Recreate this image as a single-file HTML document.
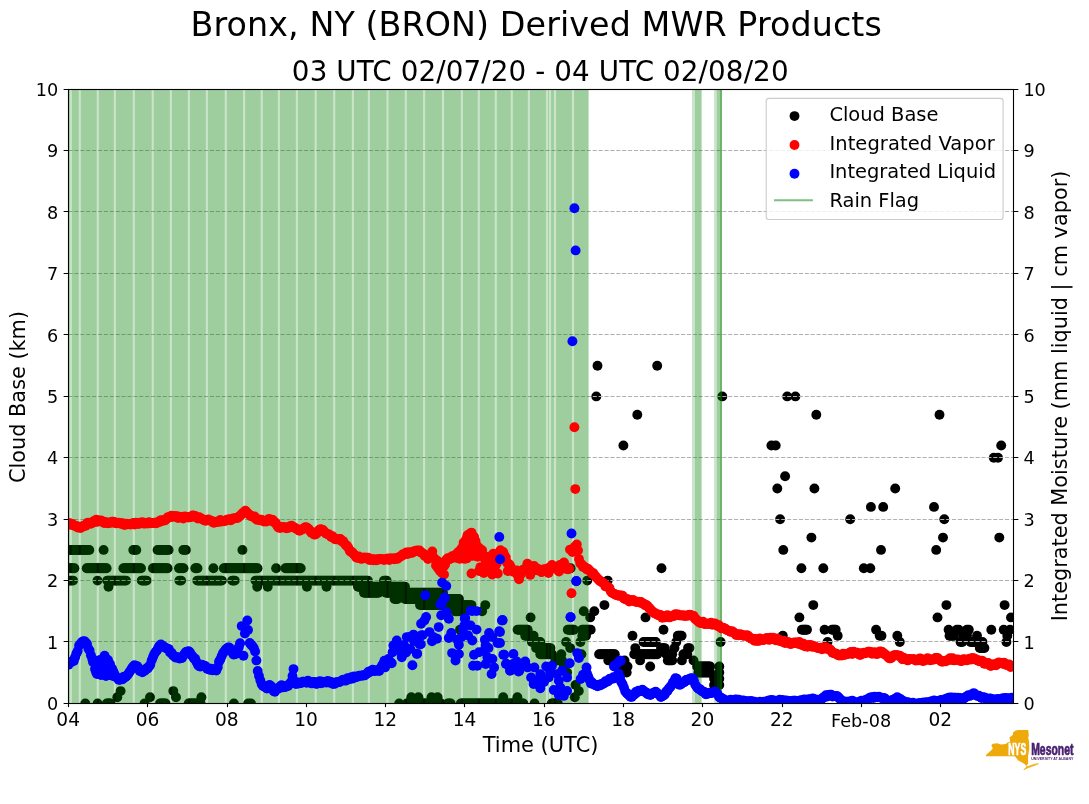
<!DOCTYPE html>
<html lang="en"><head><meta charset="utf-8"><title>Bronx, NY (BRON) Derived MWR Products</title>
<style>html,body{margin:0;padding:0;background:#fff}body{width:1089px;height:804px;overflow:hidden}svg{display:block}text{font-family:"DejaVu Sans","Liberation Sans",sans-serif;fill:#000}</style></head><body>
<svg width="1089" height="804" viewBox="0 0 1089 804">
<rect width="1089" height="804" fill="#fff"/>
<defs><clipPath id="ax"><rect x="68.50" y="89.50" width="945.00" height="614.00"/></clipPath></defs>
<text x="536.2" y="35.6" font-size="33.33" text-anchor="middle" textLength="691.2" lengthAdjust="spacing">Bronx, NY (BRON) Derived MWR Products</text>
<text x="540.2" y="81.3" font-size="27.78" text-anchor="middle" textLength="496.7" lengthAdjust="spacing">03 UTC 02/07/20 - 04 UTC 02/08/20</text>
<g clip-path="url(#ax)">
<g fill="#000">
<circle cx="68.5" cy="549.9" r="4.95"/>
<circle cx="69.8" cy="549.9" r="4.95"/>
<circle cx="71.1" cy="549.9" r="4.95"/>
<circle cx="72.4" cy="549.9" r="4.95"/>
<circle cx="73.7" cy="549.9" r="4.95"/>
<circle cx="75.0" cy="549.9" r="4.95"/>
<circle cx="76.3" cy="549.9" r="4.95"/>
<circle cx="77.6" cy="549.9" r="4.95"/>
<circle cx="78.9" cy="549.9" r="4.95"/>
<circle cx="80.2" cy="549.9" r="4.95"/>
<circle cx="81.5" cy="549.9" r="4.95"/>
<circle cx="82.8" cy="549.9" r="4.95"/>
<circle cx="84.1" cy="549.9" r="4.95"/>
<circle cx="85.4" cy="549.9" r="4.95"/>
<circle cx="86.7" cy="549.9" r="4.95"/>
<circle cx="88.0" cy="549.9" r="4.95"/>
<circle cx="89.3" cy="549.9" r="4.95"/>
<circle cx="103.6" cy="549.9" r="4.95"/>
<circle cx="242.4" cy="549.9" r="4.95"/>
<circle cx="133.3" cy="549.9" r="4.95"/>
<circle cx="134.8" cy="549.9" r="4.95"/>
<circle cx="136.3" cy="549.9" r="4.95"/>
<circle cx="157.6" cy="549.9" r="4.95"/>
<circle cx="159.0" cy="549.9" r="4.95"/>
<circle cx="160.3" cy="549.9" r="4.95"/>
<circle cx="161.7" cy="549.9" r="4.95"/>
<circle cx="163.1" cy="549.9" r="4.95"/>
<circle cx="164.5" cy="549.9" r="4.95"/>
<circle cx="165.8" cy="549.9" r="4.95"/>
<circle cx="167.2" cy="549.9" r="4.95"/>
<circle cx="168.6" cy="549.9" r="4.95"/>
<circle cx="183.3" cy="549.9" r="4.95"/>
<circle cx="184.6" cy="549.9" r="4.95"/>
<circle cx="185.9" cy="549.9" r="4.95"/>
<circle cx="68.5" cy="568.3" r="4.95"/>
<circle cx="70.0" cy="568.3" r="4.95"/>
<circle cx="71.5" cy="568.3" r="4.95"/>
<circle cx="72.9" cy="568.3" r="4.95"/>
<circle cx="74.4" cy="568.3" r="4.95"/>
<circle cx="86.7" cy="568.3" r="4.95"/>
<circle cx="88.0" cy="568.3" r="4.95"/>
<circle cx="89.4" cy="568.3" r="4.95"/>
<circle cx="90.7" cy="568.3" r="4.95"/>
<circle cx="92.0" cy="568.3" r="4.95"/>
<circle cx="93.3" cy="568.3" r="4.95"/>
<circle cx="94.7" cy="568.3" r="4.95"/>
<circle cx="96.0" cy="568.3" r="4.95"/>
<circle cx="97.3" cy="568.3" r="4.95"/>
<circle cx="98.6" cy="568.3" r="4.95"/>
<circle cx="100.0" cy="568.3" r="4.95"/>
<circle cx="101.3" cy="568.3" r="4.95"/>
<circle cx="102.6" cy="568.3" r="4.95"/>
<circle cx="103.9" cy="568.3" r="4.95"/>
<circle cx="105.3" cy="568.3" r="4.95"/>
<circle cx="106.6" cy="568.3" r="4.95"/>
<circle cx="123.4" cy="568.3" r="4.95"/>
<circle cx="124.8" cy="568.3" r="4.95"/>
<circle cx="126.1" cy="568.3" r="4.95"/>
<circle cx="127.5" cy="568.3" r="4.95"/>
<circle cx="128.8" cy="568.3" r="4.95"/>
<circle cx="130.2" cy="568.3" r="4.95"/>
<circle cx="131.5" cy="568.3" r="4.95"/>
<circle cx="132.9" cy="568.3" r="4.95"/>
<circle cx="134.2" cy="568.3" r="4.95"/>
<circle cx="135.6" cy="568.3" r="4.95"/>
<circle cx="136.9" cy="568.3" r="4.95"/>
<circle cx="138.3" cy="568.3" r="4.95"/>
<circle cx="139.6" cy="568.3" r="4.95"/>
<circle cx="141.0" cy="568.3" r="4.95"/>
<circle cx="152.9" cy="568.3" r="4.95"/>
<circle cx="154.2" cy="568.3" r="4.95"/>
<circle cx="155.6" cy="568.3" r="4.95"/>
<circle cx="156.9" cy="568.3" r="4.95"/>
<circle cx="158.2" cy="568.3" r="4.95"/>
<circle cx="159.6" cy="568.3" r="4.95"/>
<circle cx="160.9" cy="568.3" r="4.95"/>
<circle cx="162.3" cy="568.3" r="4.95"/>
<circle cx="163.6" cy="568.3" r="4.95"/>
<circle cx="164.9" cy="568.3" r="4.95"/>
<circle cx="166.3" cy="568.3" r="4.95"/>
<circle cx="167.6" cy="568.3" r="4.95"/>
<circle cx="179.0" cy="568.3" r="4.95"/>
<circle cx="180.5" cy="568.3" r="4.95"/>
<circle cx="182.0" cy="568.3" r="4.95"/>
<circle cx="183.5" cy="568.3" r="4.95"/>
<circle cx="195.3" cy="568.3" r="4.95"/>
<circle cx="196.4" cy="568.3" r="4.95"/>
<circle cx="197.5" cy="568.3" r="4.95"/>
<circle cx="213.4" cy="568.3" r="4.95"/>
<circle cx="276.1" cy="568.3" r="4.95"/>
<circle cx="223.8" cy="568.3" r="4.95"/>
<circle cx="225.1" cy="568.3" r="4.95"/>
<circle cx="226.4" cy="568.3" r="4.95"/>
<circle cx="227.7" cy="568.3" r="4.95"/>
<circle cx="229.0" cy="568.3" r="4.95"/>
<circle cx="230.3" cy="568.3" r="4.95"/>
<circle cx="231.6" cy="568.3" r="4.95"/>
<circle cx="232.9" cy="568.3" r="4.95"/>
<circle cx="234.2" cy="568.3" r="4.95"/>
<circle cx="235.5" cy="568.3" r="4.95"/>
<circle cx="236.8" cy="568.3" r="4.95"/>
<circle cx="238.1" cy="568.3" r="4.95"/>
<circle cx="239.4" cy="568.3" r="4.95"/>
<circle cx="240.7" cy="568.3" r="4.95"/>
<circle cx="241.9" cy="568.3" r="4.95"/>
<circle cx="243.2" cy="568.3" r="4.95"/>
<circle cx="244.5" cy="568.3" r="4.95"/>
<circle cx="245.8" cy="568.3" r="4.95"/>
<circle cx="247.1" cy="568.3" r="4.95"/>
<circle cx="248.4" cy="568.3" r="4.95"/>
<circle cx="249.7" cy="568.3" r="4.95"/>
<circle cx="251.0" cy="568.3" r="4.95"/>
<circle cx="252.3" cy="568.3" r="4.95"/>
<circle cx="253.6" cy="568.3" r="4.95"/>
<circle cx="254.9" cy="568.3" r="4.95"/>
<circle cx="256.2" cy="568.3" r="4.95"/>
<circle cx="257.5" cy="568.3" r="4.95"/>
<circle cx="285.4" cy="568.3" r="4.95"/>
<circle cx="286.7" cy="568.3" r="4.95"/>
<circle cx="287.9" cy="568.3" r="4.95"/>
<circle cx="289.2" cy="568.3" r="4.95"/>
<circle cx="290.5" cy="568.3" r="4.95"/>
<circle cx="291.8" cy="568.3" r="4.95"/>
<circle cx="293.0" cy="568.3" r="4.95"/>
<circle cx="294.3" cy="568.3" r="4.95"/>
<circle cx="295.6" cy="568.3" r="4.95"/>
<circle cx="296.9" cy="568.3" r="4.95"/>
<circle cx="298.1" cy="568.3" r="4.95"/>
<circle cx="299.4" cy="568.3" r="4.95"/>
<circle cx="300.7" cy="568.3" r="4.95"/>
<circle cx="68.5" cy="580.6" r="4.95"/>
<circle cx="70.0" cy="580.6" r="4.95"/>
<circle cx="71.6" cy="580.6" r="4.95"/>
<circle cx="73.1" cy="580.6" r="4.95"/>
<circle cx="97.5" cy="580.6" r="4.95"/>
<circle cx="107.2" cy="580.6" r="4.95"/>
<circle cx="108.5" cy="580.6" r="4.95"/>
<circle cx="109.9" cy="580.6" r="4.95"/>
<circle cx="111.2" cy="580.6" r="4.95"/>
<circle cx="112.6" cy="580.6" r="4.95"/>
<circle cx="113.9" cy="580.6" r="4.95"/>
<circle cx="115.3" cy="580.6" r="4.95"/>
<circle cx="116.6" cy="580.6" r="4.95"/>
<circle cx="117.9" cy="580.6" r="4.95"/>
<circle cx="119.3" cy="580.6" r="4.95"/>
<circle cx="120.6" cy="580.6" r="4.95"/>
<circle cx="122.0" cy="580.6" r="4.95"/>
<circle cx="123.3" cy="580.6" r="4.95"/>
<circle cx="124.7" cy="580.6" r="4.95"/>
<circle cx="126.0" cy="580.6" r="4.95"/>
<circle cx="141.7" cy="580.6" r="4.95"/>
<circle cx="142.9" cy="580.6" r="4.95"/>
<circle cx="144.1" cy="580.6" r="4.95"/>
<circle cx="145.4" cy="580.6" r="4.95"/>
<circle cx="146.6" cy="580.6" r="4.95"/>
<circle cx="179.4" cy="580.6" r="4.95"/>
<circle cx="181.1" cy="580.6" r="4.95"/>
<circle cx="197.3" cy="580.6" r="4.95"/>
<circle cx="198.6" cy="580.6" r="4.95"/>
<circle cx="199.9" cy="580.6" r="4.95"/>
<circle cx="201.2" cy="580.6" r="4.95"/>
<circle cx="202.5" cy="580.6" r="4.95"/>
<circle cx="203.7" cy="580.6" r="4.95"/>
<circle cx="205.0" cy="580.6" r="4.95"/>
<circle cx="206.3" cy="580.6" r="4.95"/>
<circle cx="207.6" cy="580.6" r="4.95"/>
<circle cx="208.9" cy="580.6" r="4.95"/>
<circle cx="210.2" cy="580.6" r="4.95"/>
<circle cx="211.5" cy="580.6" r="4.95"/>
<circle cx="212.8" cy="580.6" r="4.95"/>
<circle cx="214.1" cy="580.6" r="4.95"/>
<circle cx="215.4" cy="580.6" r="4.95"/>
<circle cx="216.6" cy="580.6" r="4.95"/>
<circle cx="217.9" cy="580.6" r="4.95"/>
<circle cx="219.2" cy="580.6" r="4.95"/>
<circle cx="220.5" cy="580.6" r="4.95"/>
<circle cx="221.8" cy="580.6" r="4.95"/>
<circle cx="232.2" cy="580.6" r="4.95"/>
<circle cx="233.5" cy="580.6" r="4.95"/>
<circle cx="234.8" cy="580.6" r="4.95"/>
<circle cx="255.5" cy="580.6" r="4.95"/>
<circle cx="256.8" cy="580.6" r="4.95"/>
<circle cx="258.1" cy="580.6" r="4.95"/>
<circle cx="259.5" cy="580.6" r="4.95"/>
<circle cx="260.8" cy="580.6" r="4.95"/>
<circle cx="262.1" cy="580.6" r="4.95"/>
<circle cx="263.4" cy="580.6" r="4.95"/>
<circle cx="264.8" cy="580.6" r="4.95"/>
<circle cx="266.1" cy="580.6" r="4.95"/>
<circle cx="267.4" cy="580.6" r="4.95"/>
<circle cx="268.7" cy="580.6" r="4.95"/>
<circle cx="270.0" cy="580.6" r="4.95"/>
<circle cx="271.4" cy="580.6" r="4.95"/>
<circle cx="272.7" cy="580.6" r="4.95"/>
<circle cx="274.0" cy="580.6" r="4.95"/>
<circle cx="275.3" cy="580.6" r="4.95"/>
<circle cx="276.7" cy="580.6" r="4.95"/>
<circle cx="278.0" cy="580.6" r="4.95"/>
<circle cx="279.3" cy="580.6" r="4.95"/>
<circle cx="280.6" cy="580.6" r="4.95"/>
<circle cx="281.9" cy="580.6" r="4.95"/>
<circle cx="283.3" cy="580.6" r="4.95"/>
<circle cx="284.6" cy="580.6" r="4.95"/>
<circle cx="285.9" cy="580.6" r="4.95"/>
<circle cx="287.2" cy="580.6" r="4.95"/>
<circle cx="288.6" cy="580.6" r="4.95"/>
<circle cx="289.9" cy="580.6" r="4.95"/>
<circle cx="291.2" cy="580.6" r="4.95"/>
<circle cx="292.5" cy="580.6" r="4.95"/>
<circle cx="293.8" cy="580.6" r="4.95"/>
<circle cx="295.2" cy="580.6" r="4.95"/>
<circle cx="296.5" cy="580.6" r="4.95"/>
<circle cx="297.8" cy="580.6" r="4.95"/>
<circle cx="299.1" cy="580.6" r="4.95"/>
<circle cx="300.5" cy="580.6" r="4.95"/>
<circle cx="301.8" cy="580.6" r="4.95"/>
<circle cx="303.1" cy="580.6" r="4.95"/>
<circle cx="304.4" cy="580.6" r="4.95"/>
<circle cx="305.7" cy="580.6" r="4.95"/>
<circle cx="307.1" cy="580.6" r="4.95"/>
<circle cx="308.4" cy="580.6" r="4.95"/>
<circle cx="309.7" cy="580.6" r="4.95"/>
<circle cx="311.0" cy="580.6" r="4.95"/>
<circle cx="312.4" cy="580.6" r="4.95"/>
<circle cx="313.7" cy="580.6" r="4.95"/>
<circle cx="315.0" cy="580.6" r="4.95"/>
<circle cx="316.3" cy="580.6" r="4.95"/>
<circle cx="317.7" cy="580.6" r="4.95"/>
<circle cx="319.0" cy="580.6" r="4.95"/>
<circle cx="320.3" cy="580.6" r="4.95"/>
<circle cx="321.6" cy="580.6" r="4.95"/>
<circle cx="322.9" cy="580.6" r="4.95"/>
<circle cx="324.3" cy="580.6" r="4.95"/>
<circle cx="325.6" cy="580.6" r="4.95"/>
<circle cx="326.9" cy="580.6" r="4.95"/>
<circle cx="328.2" cy="580.6" r="4.95"/>
<circle cx="329.6" cy="580.6" r="4.95"/>
<circle cx="330.9" cy="580.6" r="4.95"/>
<circle cx="332.2" cy="580.6" r="4.95"/>
<circle cx="333.5" cy="580.6" r="4.95"/>
<circle cx="334.8" cy="580.6" r="4.95"/>
<circle cx="336.2" cy="580.6" r="4.95"/>
<circle cx="337.5" cy="580.6" r="4.95"/>
<circle cx="338.8" cy="580.6" r="4.95"/>
<circle cx="340.1" cy="580.6" r="4.95"/>
<circle cx="341.5" cy="580.6" r="4.95"/>
<circle cx="342.8" cy="580.6" r="4.95"/>
<circle cx="344.1" cy="580.6" r="4.95"/>
<circle cx="345.4" cy="580.6" r="4.95"/>
<circle cx="346.7" cy="580.6" r="4.95"/>
<circle cx="348.1" cy="580.6" r="4.95"/>
<circle cx="349.4" cy="580.6" r="4.95"/>
<circle cx="350.7" cy="580.6" r="4.95"/>
<circle cx="352.0" cy="580.6" r="4.95"/>
<circle cx="353.4" cy="580.6" r="4.95"/>
<circle cx="354.7" cy="580.6" r="4.95"/>
<circle cx="356.0" cy="580.6" r="4.95"/>
<circle cx="357.3" cy="580.6" r="4.95"/>
<circle cx="358.6" cy="580.6" r="4.95"/>
<circle cx="360.0" cy="580.6" r="4.95"/>
<circle cx="361.3" cy="580.6" r="4.95"/>
<circle cx="362.6" cy="580.6" r="4.95"/>
<circle cx="363.9" cy="580.6" r="4.95"/>
<circle cx="365.3" cy="580.6" r="4.95"/>
<circle cx="366.6" cy="580.6" r="4.95"/>
<circle cx="367.9" cy="580.6" r="4.95"/>
<circle cx="384.0" cy="580.6" r="4.95"/>
<circle cx="385.3" cy="580.6" r="4.95"/>
<circle cx="386.6" cy="580.6" r="4.95"/>
<circle cx="108.5" cy="586.7" r="4.95"/>
<circle cx="257.2" cy="586.7" r="4.95"/>
<circle cx="267.7" cy="586.7" r="4.95"/>
<circle cx="306.9" cy="586.7" r="4.95"/>
<circle cx="326.5" cy="586.7" r="4.95"/>
<circle cx="85.3" cy="703.4" r="4.95"/>
<circle cx="97.6" cy="703.4" r="4.95"/>
<circle cx="144.5" cy="703.4" r="4.95"/>
<circle cx="233.9" cy="703.4" r="4.95"/>
<circle cx="248.2" cy="703.4" r="4.95"/>
<circle cx="251.0" cy="703.4" r="4.95"/>
<circle cx="106.8" cy="703.4" r="4.95"/>
<circle cx="108.0" cy="703.4" r="4.95"/>
<circle cx="109.3" cy="703.4" r="4.95"/>
<circle cx="110.5" cy="703.4" r="4.95"/>
<circle cx="160.0" cy="703.4" r="4.95"/>
<circle cx="161.4" cy="703.4" r="4.95"/>
<circle cx="162.8" cy="703.4" r="4.95"/>
<circle cx="164.2" cy="703.4" r="4.95"/>
<circle cx="165.6" cy="703.4" r="4.95"/>
<circle cx="188.6" cy="703.4" r="4.95"/>
<circle cx="189.9" cy="703.4" r="4.95"/>
<circle cx="191.2" cy="703.4" r="4.95"/>
<circle cx="192.6" cy="703.4" r="4.95"/>
<circle cx="193.9" cy="703.4" r="4.95"/>
<circle cx="195.2" cy="703.4" r="4.95"/>
<circle cx="196.5" cy="703.4" r="4.95"/>
<circle cx="197.9" cy="703.4" r="4.95"/>
<circle cx="199.2" cy="703.4" r="4.95"/>
<circle cx="200.5" cy="703.4" r="4.95"/>
<circle cx="117.3" cy="697.2" r="4.95"/>
<circle cx="150.0" cy="697.2" r="4.95"/>
<circle cx="176.0" cy="697.2" r="4.95"/>
<circle cx="201.4" cy="697.2" r="4.95"/>
<circle cx="120.6" cy="691.1" r="4.95"/>
<circle cx="173.3" cy="691.1" r="4.95"/>
<circle cx="358.0" cy="586.7" r="4.95"/>
<circle cx="359.3" cy="586.7" r="4.95"/>
<circle cx="360.6" cy="586.7" r="4.95"/>
<circle cx="361.9" cy="586.7" r="4.95"/>
<circle cx="363.3" cy="586.7" r="4.95"/>
<circle cx="364.6" cy="586.7" r="4.95"/>
<circle cx="365.9" cy="586.7" r="4.95"/>
<circle cx="367.2" cy="586.7" r="4.95"/>
<circle cx="368.5" cy="586.7" r="4.95"/>
<circle cx="369.8" cy="586.7" r="4.95"/>
<circle cx="371.2" cy="586.7" r="4.95"/>
<circle cx="372.5" cy="586.7" r="4.95"/>
<circle cx="373.8" cy="586.7" r="4.95"/>
<circle cx="375.1" cy="586.7" r="4.95"/>
<circle cx="376.4" cy="586.7" r="4.95"/>
<circle cx="377.7" cy="586.7" r="4.95"/>
<circle cx="379.1" cy="586.7" r="4.95"/>
<circle cx="380.4" cy="586.7" r="4.95"/>
<circle cx="381.7" cy="586.7" r="4.95"/>
<circle cx="383.0" cy="586.7" r="4.95"/>
<circle cx="364.0" cy="592.8" r="4.95"/>
<circle cx="365.3" cy="592.8" r="4.95"/>
<circle cx="366.6" cy="592.8" r="4.95"/>
<circle cx="368.0" cy="592.8" r="4.95"/>
<circle cx="369.3" cy="592.8" r="4.95"/>
<circle cx="370.6" cy="592.8" r="4.95"/>
<circle cx="371.9" cy="592.8" r="4.95"/>
<circle cx="373.2" cy="592.8" r="4.95"/>
<circle cx="374.5" cy="592.8" r="4.95"/>
<circle cx="375.9" cy="592.8" r="4.95"/>
<circle cx="377.2" cy="592.8" r="4.95"/>
<circle cx="378.5" cy="592.8" r="4.95"/>
<circle cx="383.0" cy="586.7" r="4.95"/>
<circle cx="384.3" cy="586.7" r="4.95"/>
<circle cx="385.6" cy="586.7" r="4.95"/>
<circle cx="386.9" cy="586.7" r="4.95"/>
<circle cx="388.2" cy="586.7" r="4.95"/>
<circle cx="389.5" cy="586.7" r="4.95"/>
<circle cx="390.8" cy="586.7" r="4.95"/>
<circle cx="392.1" cy="586.7" r="4.95"/>
<circle cx="393.4" cy="586.7" r="4.95"/>
<circle cx="394.6" cy="586.7" r="4.95"/>
<circle cx="395.9" cy="586.7" r="4.95"/>
<circle cx="397.2" cy="586.7" r="4.95"/>
<circle cx="398.5" cy="586.7" r="4.95"/>
<circle cx="399.8" cy="586.7" r="4.95"/>
<circle cx="401.1" cy="586.7" r="4.95"/>
<circle cx="402.4" cy="586.7" r="4.95"/>
<circle cx="403.7" cy="586.7" r="4.95"/>
<circle cx="405.0" cy="586.7" r="4.95"/>
<circle cx="386.0" cy="592.8" r="4.95"/>
<circle cx="387.3" cy="592.8" r="4.95"/>
<circle cx="388.7" cy="592.8" r="4.95"/>
<circle cx="390.0" cy="592.8" r="4.95"/>
<circle cx="391.3" cy="592.8" r="4.95"/>
<circle cx="392.6" cy="592.8" r="4.95"/>
<circle cx="394.0" cy="592.8" r="4.95"/>
<circle cx="395.3" cy="592.8" r="4.95"/>
<circle cx="396.6" cy="592.8" r="4.95"/>
<circle cx="397.9" cy="592.8" r="4.95"/>
<circle cx="399.3" cy="592.8" r="4.95"/>
<circle cx="400.6" cy="592.8" r="4.95"/>
<circle cx="401.9" cy="592.8" r="4.95"/>
<circle cx="403.2" cy="592.8" r="4.95"/>
<circle cx="404.6" cy="592.8" r="4.95"/>
<circle cx="405.9" cy="592.8" r="4.95"/>
<circle cx="407.2" cy="592.8" r="4.95"/>
<circle cx="408.5" cy="592.8" r="4.95"/>
<circle cx="409.9" cy="592.8" r="4.95"/>
<circle cx="411.2" cy="592.8" r="4.95"/>
<circle cx="412.5" cy="592.8" r="4.95"/>
<circle cx="413.8" cy="592.8" r="4.95"/>
<circle cx="415.2" cy="592.8" r="4.95"/>
<circle cx="416.5" cy="592.8" r="4.95"/>
<circle cx="417.8" cy="592.8" r="4.95"/>
<circle cx="419.1" cy="592.8" r="4.95"/>
<circle cx="420.5" cy="592.8" r="4.95"/>
<circle cx="421.8" cy="592.8" r="4.95"/>
<circle cx="423.1" cy="592.8" r="4.95"/>
<circle cx="424.4" cy="592.8" r="4.95"/>
<circle cx="425.8" cy="592.8" r="4.95"/>
<circle cx="427.1" cy="592.8" r="4.95"/>
<circle cx="428.4" cy="592.8" r="4.95"/>
<circle cx="429.7" cy="592.8" r="4.95"/>
<circle cx="431.1" cy="592.8" r="4.95"/>
<circle cx="432.4" cy="592.8" r="4.95"/>
<circle cx="433.7" cy="592.8" r="4.95"/>
<circle cx="435.0" cy="592.8" r="4.95"/>
<circle cx="436.4" cy="592.8" r="4.95"/>
<circle cx="437.7" cy="592.8" r="4.95"/>
<circle cx="439.0" cy="592.8" r="4.95"/>
<circle cx="440.3" cy="592.8" r="4.95"/>
<circle cx="441.7" cy="592.8" r="4.95"/>
<circle cx="443.0" cy="592.8" r="4.95"/>
<circle cx="394.6" cy="599.0" r="4.95"/>
<circle cx="396.0" cy="599.0" r="4.95"/>
<circle cx="397.4" cy="599.0" r="4.95"/>
<circle cx="405.0" cy="599.0" r="4.95"/>
<circle cx="406.3" cy="599.0" r="4.95"/>
<circle cx="407.6" cy="599.0" r="4.95"/>
<circle cx="408.9" cy="599.0" r="4.95"/>
<circle cx="410.2" cy="599.0" r="4.95"/>
<circle cx="411.6" cy="599.0" r="4.95"/>
<circle cx="412.9" cy="599.0" r="4.95"/>
<circle cx="414.2" cy="599.0" r="4.95"/>
<circle cx="415.5" cy="599.0" r="4.95"/>
<circle cx="416.8" cy="599.0" r="4.95"/>
<circle cx="418.1" cy="599.0" r="4.95"/>
<circle cx="419.4" cy="599.0" r="4.95"/>
<circle cx="420.7" cy="599.0" r="4.95"/>
<circle cx="422.0" cy="599.0" r="4.95"/>
<circle cx="423.3" cy="599.0" r="4.95"/>
<circle cx="424.7" cy="599.0" r="4.95"/>
<circle cx="426.0" cy="599.0" r="4.95"/>
<circle cx="427.3" cy="599.0" r="4.95"/>
<circle cx="428.6" cy="599.0" r="4.95"/>
<circle cx="429.9" cy="599.0" r="4.95"/>
<circle cx="431.2" cy="599.0" r="4.95"/>
<circle cx="432.5" cy="599.0" r="4.95"/>
<circle cx="433.8" cy="599.0" r="4.95"/>
<circle cx="435.1" cy="599.0" r="4.95"/>
<circle cx="436.4" cy="599.0" r="4.95"/>
<circle cx="437.8" cy="599.0" r="4.95"/>
<circle cx="439.1" cy="599.0" r="4.95"/>
<circle cx="440.4" cy="599.0" r="4.95"/>
<circle cx="441.7" cy="599.0" r="4.95"/>
<circle cx="443.0" cy="599.0" r="4.95"/>
<circle cx="420.0" cy="605.1" r="4.95"/>
<circle cx="421.4" cy="605.1" r="4.95"/>
<circle cx="422.7" cy="605.1" r="4.95"/>
<circle cx="424.1" cy="605.1" r="4.95"/>
<circle cx="425.4" cy="605.1" r="4.95"/>
<circle cx="426.8" cy="605.1" r="4.95"/>
<circle cx="428.1" cy="605.1" r="4.95"/>
<circle cx="429.5" cy="605.1" r="4.95"/>
<circle cx="430.8" cy="605.1" r="4.95"/>
<circle cx="432.2" cy="605.1" r="4.95"/>
<circle cx="433.5" cy="605.1" r="4.95"/>
<circle cx="434.9" cy="605.1" r="4.95"/>
<circle cx="436.2" cy="605.1" r="4.95"/>
<circle cx="437.6" cy="605.1" r="4.95"/>
<circle cx="438.9" cy="605.1" r="4.95"/>
<circle cx="440.3" cy="605.1" r="4.95"/>
<circle cx="441.6" cy="605.1" r="4.95"/>
<circle cx="443.0" cy="605.1" r="4.95"/>
<circle cx="448.0" cy="599.0" r="4.95"/>
<circle cx="449.4" cy="599.0" r="4.95"/>
<circle cx="450.8" cy="599.0" r="4.95"/>
<circle cx="452.1" cy="599.0" r="4.95"/>
<circle cx="453.5" cy="599.0" r="4.95"/>
<circle cx="454.9" cy="599.0" r="4.95"/>
<circle cx="456.2" cy="599.0" r="4.95"/>
<circle cx="457.6" cy="599.0" r="4.95"/>
<circle cx="459.0" cy="599.0" r="4.95"/>
<circle cx="450.0" cy="605.1" r="4.95"/>
<circle cx="451.3" cy="605.1" r="4.95"/>
<circle cx="452.7" cy="605.1" r="4.95"/>
<circle cx="454.0" cy="605.1" r="4.95"/>
<circle cx="455.4" cy="605.1" r="4.95"/>
<circle cx="456.7" cy="605.1" r="4.95"/>
<circle cx="458.1" cy="605.1" r="4.95"/>
<circle cx="459.4" cy="605.1" r="4.95"/>
<circle cx="460.8" cy="605.1" r="4.95"/>
<circle cx="462.1" cy="605.1" r="4.95"/>
<circle cx="463.4" cy="605.1" r="4.95"/>
<circle cx="464.8" cy="605.1" r="4.95"/>
<circle cx="466.1" cy="605.1" r="4.95"/>
<circle cx="467.5" cy="605.1" r="4.95"/>
<circle cx="468.8" cy="605.1" r="4.95"/>
<circle cx="470.2" cy="605.1" r="4.95"/>
<circle cx="471.5" cy="605.1" r="4.95"/>
<circle cx="455.0" cy="611.2" r="4.95"/>
<circle cx="456.4" cy="611.2" r="4.95"/>
<circle cx="457.8" cy="611.2" r="4.95"/>
<circle cx="459.1" cy="611.2" r="4.95"/>
<circle cx="460.5" cy="611.2" r="4.95"/>
<circle cx="461.9" cy="611.2" r="4.95"/>
<circle cx="463.2" cy="611.2" r="4.95"/>
<circle cx="464.6" cy="611.2" r="4.95"/>
<circle cx="466.0" cy="611.2" r="4.95"/>
<circle cx="485.3" cy="605.1" r="4.95"/>
<circle cx="482.1" cy="611.2" r="4.95"/>
<circle cx="460.0" cy="629.7" r="4.95"/>
<circle cx="399.2" cy="703.4" r="4.95"/>
<circle cx="406.8" cy="703.4" r="4.95"/>
<circle cx="408.1" cy="703.4" r="4.95"/>
<circle cx="409.4" cy="703.4" r="4.95"/>
<circle cx="410.7" cy="703.4" r="4.95"/>
<circle cx="412.1" cy="703.4" r="4.95"/>
<circle cx="413.4" cy="703.4" r="4.95"/>
<circle cx="414.7" cy="703.4" r="4.95"/>
<circle cx="416.0" cy="703.4" r="4.95"/>
<circle cx="417.3" cy="703.4" r="4.95"/>
<circle cx="418.6" cy="703.4" r="4.95"/>
<circle cx="420.0" cy="703.4" r="4.95"/>
<circle cx="421.3" cy="703.4" r="4.95"/>
<circle cx="422.6" cy="703.4" r="4.95"/>
<circle cx="423.9" cy="703.4" r="4.95"/>
<circle cx="425.2" cy="703.4" r="4.95"/>
<circle cx="426.5" cy="703.4" r="4.95"/>
<circle cx="427.8" cy="703.4" r="4.95"/>
<circle cx="429.2" cy="703.4" r="4.95"/>
<circle cx="430.5" cy="703.4" r="4.95"/>
<circle cx="431.8" cy="703.4" r="4.95"/>
<circle cx="433.1" cy="703.4" r="4.95"/>
<circle cx="434.4" cy="703.4" r="4.95"/>
<circle cx="435.7" cy="703.4" r="4.95"/>
<circle cx="437.1" cy="703.4" r="4.95"/>
<circle cx="438.4" cy="703.4" r="4.95"/>
<circle cx="439.7" cy="703.4" r="4.95"/>
<circle cx="441.0" cy="703.4" r="4.95"/>
<circle cx="411.3" cy="697.2" r="4.95"/>
<circle cx="418.4" cy="697.2" r="4.95"/>
<circle cx="431.5" cy="697.2" r="4.95"/>
<circle cx="437.6" cy="697.2" r="4.95"/>
<circle cx="447.7" cy="703.4" r="4.95"/>
<circle cx="449.2" cy="703.4" r="4.95"/>
<circle cx="450.7" cy="703.4" r="4.95"/>
<circle cx="460.8" cy="703.4" r="4.95"/>
<circle cx="462.1" cy="703.4" r="4.95"/>
<circle cx="463.5" cy="703.4" r="4.95"/>
<circle cx="464.8" cy="703.4" r="4.95"/>
<circle cx="466.1" cy="703.4" r="4.95"/>
<circle cx="467.5" cy="703.4" r="4.95"/>
<circle cx="468.8" cy="703.4" r="4.95"/>
<circle cx="470.1" cy="703.4" r="4.95"/>
<circle cx="471.5" cy="703.4" r="4.95"/>
<circle cx="472.8" cy="703.4" r="4.95"/>
<circle cx="474.1" cy="703.4" r="4.95"/>
<circle cx="475.5" cy="703.4" r="4.95"/>
<circle cx="476.8" cy="703.4" r="4.95"/>
<circle cx="478.1" cy="703.4" r="4.95"/>
<circle cx="479.4" cy="703.4" r="4.95"/>
<circle cx="480.8" cy="703.4" r="4.95"/>
<circle cx="482.1" cy="703.4" r="4.95"/>
<circle cx="483.4" cy="703.4" r="4.95"/>
<circle cx="484.8" cy="703.4" r="4.95"/>
<circle cx="486.1" cy="703.4" r="4.95"/>
<circle cx="487.4" cy="703.4" r="4.95"/>
<circle cx="488.8" cy="703.4" r="4.95"/>
<circle cx="490.1" cy="703.4" r="4.95"/>
<circle cx="491.4" cy="703.4" r="4.95"/>
<circle cx="492.8" cy="703.4" r="4.95"/>
<circle cx="494.1" cy="703.4" r="4.95"/>
<circle cx="495.4" cy="703.4" r="4.95"/>
<circle cx="496.8" cy="703.4" r="4.95"/>
<circle cx="498.1" cy="703.4" r="4.95"/>
<circle cx="499.4" cy="703.4" r="4.95"/>
<circle cx="500.8" cy="703.4" r="4.95"/>
<circle cx="502.1" cy="703.4" r="4.95"/>
<circle cx="503.4" cy="703.4" r="4.95"/>
<circle cx="504.8" cy="703.4" r="4.95"/>
<circle cx="506.1" cy="703.4" r="4.95"/>
<circle cx="507.4" cy="703.4" r="4.95"/>
<circle cx="508.7" cy="703.4" r="4.95"/>
<circle cx="510.1" cy="703.4" r="4.95"/>
<circle cx="511.4" cy="703.4" r="4.95"/>
<circle cx="512.7" cy="703.4" r="4.95"/>
<circle cx="514.1" cy="703.4" r="4.95"/>
<circle cx="515.4" cy="703.4" r="4.95"/>
<circle cx="516.7" cy="703.4" r="4.95"/>
<circle cx="518.1" cy="703.4" r="4.95"/>
<circle cx="519.4" cy="703.4" r="4.95"/>
<circle cx="520.7" cy="703.4" r="4.95"/>
<circle cx="522.1" cy="703.4" r="4.95"/>
<circle cx="523.4" cy="703.4" r="4.95"/>
<circle cx="503.2" cy="697.2" r="4.95"/>
<circle cx="517.4" cy="697.2" r="4.95"/>
<circle cx="534.5" cy="703.4" r="4.95"/>
<circle cx="551.7" cy="703.4" r="4.95"/>
<circle cx="552.9" cy="703.4" r="4.95"/>
<circle cx="554.1" cy="703.4" r="4.95"/>
<circle cx="555.4" cy="703.4" r="4.95"/>
<circle cx="556.6" cy="703.4" r="4.95"/>
<circle cx="557.8" cy="703.4" r="4.95"/>
<circle cx="530.6" cy="617.4" r="4.95"/>
<circle cx="517.6" cy="629.7" r="4.95"/>
<circle cx="518.9" cy="629.7" r="4.95"/>
<circle cx="520.1" cy="629.7" r="4.95"/>
<circle cx="521.4" cy="629.7" r="4.95"/>
<circle cx="522.7" cy="629.7" r="4.95"/>
<circle cx="523.9" cy="629.7" r="4.95"/>
<circle cx="525.2" cy="629.7" r="4.95"/>
<circle cx="526.4" cy="629.7" r="4.95"/>
<circle cx="527.7" cy="629.7" r="4.95"/>
<circle cx="525.2" cy="635.8" r="4.95"/>
<circle cx="526.6" cy="635.8" r="4.95"/>
<circle cx="528.0" cy="635.8" r="4.95"/>
<circle cx="529.4" cy="635.8" r="4.95"/>
<circle cx="530.8" cy="635.8" r="4.95"/>
<circle cx="532.2" cy="635.8" r="4.95"/>
<circle cx="533.6" cy="635.8" r="4.95"/>
<circle cx="531.9" cy="642.0" r="4.95"/>
<circle cx="533.3" cy="642.0" r="4.95"/>
<circle cx="534.7" cy="642.0" r="4.95"/>
<circle cx="536.1" cy="642.0" r="4.95"/>
<circle cx="537.5" cy="642.0" r="4.95"/>
<circle cx="538.9" cy="642.0" r="4.95"/>
<circle cx="540.3" cy="642.0" r="4.95"/>
<circle cx="536.1" cy="648.1" r="4.95"/>
<circle cx="537.4" cy="648.1" r="4.95"/>
<circle cx="538.7" cy="648.1" r="4.95"/>
<circle cx="540.0" cy="648.1" r="4.95"/>
<circle cx="541.3" cy="648.1" r="4.95"/>
<circle cx="542.6" cy="648.1" r="4.95"/>
<circle cx="543.9" cy="648.1" r="4.95"/>
<circle cx="545.2" cy="648.1" r="4.95"/>
<circle cx="546.5" cy="648.1" r="4.95"/>
<circle cx="547.8" cy="648.1" r="4.95"/>
<circle cx="549.1" cy="648.1" r="4.95"/>
<circle cx="550.4" cy="648.1" r="4.95"/>
<circle cx="540.3" cy="654.2" r="4.95"/>
<circle cx="541.6" cy="654.2" r="4.95"/>
<circle cx="542.9" cy="654.2" r="4.95"/>
<circle cx="544.2" cy="654.2" r="4.95"/>
<circle cx="545.5" cy="654.2" r="4.95"/>
<circle cx="546.8" cy="654.2" r="4.95"/>
<circle cx="548.1" cy="654.2" r="4.95"/>
<circle cx="549.4" cy="654.2" r="4.95"/>
<circle cx="550.7" cy="654.2" r="4.95"/>
<circle cx="552.0" cy="654.2" r="4.95"/>
<circle cx="561.3" cy="654.2" r="4.95"/>
<circle cx="555.4" cy="660.4" r="4.95"/>
<circle cx="556.7" cy="660.4" r="4.95"/>
<circle cx="558.1" cy="660.4" r="4.95"/>
<circle cx="559.4" cy="660.4" r="4.95"/>
<circle cx="560.8" cy="660.4" r="4.95"/>
<circle cx="562.1" cy="660.4" r="4.95"/>
<circle cx="563.8" cy="666.5" r="4.95"/>
<circle cx="567.1" cy="672.6" r="4.95"/>
<circle cx="583.7" cy="611.2" r="4.95"/>
<circle cx="587.3" cy="580.6" r="4.95"/>
<circle cx="567.8" cy="629.7" r="4.95"/>
<circle cx="569.0" cy="629.7" r="4.95"/>
<circle cx="570.2" cy="629.7" r="4.95"/>
<circle cx="571.5" cy="629.7" r="4.95"/>
<circle cx="572.7" cy="629.7" r="4.95"/>
<circle cx="573.9" cy="629.7" r="4.95"/>
<circle cx="582.2" cy="629.7" r="4.95"/>
<circle cx="583.6" cy="629.7" r="4.95"/>
<circle cx="585.0" cy="629.7" r="4.95"/>
<circle cx="586.5" cy="629.7" r="4.95"/>
<circle cx="587.9" cy="629.7" r="4.95"/>
<circle cx="589.3" cy="629.7" r="4.95"/>
<circle cx="590.7" cy="629.7" r="4.95"/>
<circle cx="566.1" cy="642.0" r="4.95"/>
<circle cx="580.4" cy="642.0" r="4.95"/>
<circle cx="570.2" cy="648.1" r="4.95"/>
<circle cx="582.3" cy="635.8" r="4.95"/>
<circle cx="586.0" cy="635.8" r="4.95"/>
<circle cx="581.4" cy="654.2" r="4.95"/>
<circle cx="575.6" cy="684.9" r="4.95"/>
<circle cx="578.8" cy="691.1" r="4.95"/>
<circle cx="574.8" cy="697.2" r="4.95"/>
<circle cx="570.6" cy="568.3" r="4.95"/>
<circle cx="594.3" cy="611.2" r="4.95"/>
<circle cx="590.2" cy="617.4" r="4.95"/>
<circle cx="645.5" cy="617.4" r="4.95"/>
<circle cx="604.4" cy="605.1" r="4.95"/>
<circle cx="607.7" cy="580.6" r="4.95"/>
<circle cx="596.3" cy="396.4" r="4.95"/>
<circle cx="597.5" cy="365.7" r="4.95"/>
<circle cx="657.2" cy="365.7" r="4.95"/>
<circle cx="637.3" cy="414.8" r="4.95"/>
<circle cx="623.4" cy="445.5" r="4.95"/>
<circle cx="661.5" cy="568.3" r="4.95"/>
<circle cx="663.5" cy="629.7" r="4.95"/>
<circle cx="632.5" cy="635.8" r="4.95"/>
<circle cx="677.8" cy="635.8" r="4.95"/>
<circle cx="679.1" cy="635.8" r="4.95"/>
<circle cx="680.3" cy="635.8" r="4.95"/>
<circle cx="681.6" cy="635.8" r="4.95"/>
<circle cx="643.5" cy="642.0" r="4.95"/>
<circle cx="644.9" cy="642.0" r="4.95"/>
<circle cx="646.2" cy="642.0" r="4.95"/>
<circle cx="647.6" cy="642.0" r="4.95"/>
<circle cx="649.0" cy="642.0" r="4.95"/>
<circle cx="650.3" cy="642.0" r="4.95"/>
<circle cx="651.7" cy="642.0" r="4.95"/>
<circle cx="653.1" cy="642.0" r="4.95"/>
<circle cx="654.4" cy="642.0" r="4.95"/>
<circle cx="655.8" cy="642.0" r="4.95"/>
<circle cx="676.3" cy="642.0" r="4.95"/>
<circle cx="720.6" cy="642.0" r="4.95"/>
<circle cx="635.3" cy="648.1" r="4.95"/>
<circle cx="674.5" cy="648.1" r="4.95"/>
<circle cx="661.0" cy="648.1" r="4.95"/>
<circle cx="662.3" cy="648.1" r="4.95"/>
<circle cx="663.5" cy="648.1" r="4.95"/>
<circle cx="664.8" cy="648.1" r="4.95"/>
<circle cx="688.0" cy="648.1" r="4.95"/>
<circle cx="689.4" cy="648.1" r="4.95"/>
<circle cx="599.1" cy="654.2" r="4.95"/>
<circle cx="600.4" cy="654.2" r="4.95"/>
<circle cx="601.7" cy="654.2" r="4.95"/>
<circle cx="603.0" cy="654.2" r="4.95"/>
<circle cx="604.3" cy="654.2" r="4.95"/>
<circle cx="605.6" cy="654.2" r="4.95"/>
<circle cx="607.0" cy="654.2" r="4.95"/>
<circle cx="608.3" cy="654.2" r="4.95"/>
<circle cx="609.6" cy="654.2" r="4.95"/>
<circle cx="610.9" cy="654.2" r="4.95"/>
<circle cx="612.2" cy="654.2" r="4.95"/>
<circle cx="613.5" cy="654.2" r="4.95"/>
<circle cx="614.8" cy="654.2" r="4.95"/>
<circle cx="634.2" cy="654.2" r="4.95"/>
<circle cx="638.7" cy="654.2" r="4.95"/>
<circle cx="640.0" cy="654.2" r="4.95"/>
<circle cx="641.4" cy="654.2" r="4.95"/>
<circle cx="642.7" cy="654.2" r="4.95"/>
<circle cx="644.0" cy="654.2" r="4.95"/>
<circle cx="645.3" cy="654.2" r="4.95"/>
<circle cx="646.7" cy="654.2" r="4.95"/>
<circle cx="648.0" cy="654.2" r="4.95"/>
<circle cx="649.3" cy="654.2" r="4.95"/>
<circle cx="650.7" cy="654.2" r="4.95"/>
<circle cx="652.0" cy="654.2" r="4.95"/>
<circle cx="653.3" cy="654.2" r="4.95"/>
<circle cx="654.6" cy="654.2" r="4.95"/>
<circle cx="656.0" cy="654.2" r="4.95"/>
<circle cx="657.3" cy="654.2" r="4.95"/>
<circle cx="666.3" cy="654.2" r="4.95"/>
<circle cx="667.8" cy="654.2" r="4.95"/>
<circle cx="669.2" cy="654.2" r="4.95"/>
<circle cx="670.7" cy="654.2" r="4.95"/>
<circle cx="672.2" cy="654.2" r="4.95"/>
<circle cx="683.4" cy="654.2" r="4.95"/>
<circle cx="684.7" cy="654.2" r="4.95"/>
<circle cx="685.9" cy="654.2" r="4.95"/>
<circle cx="687.2" cy="654.2" r="4.95"/>
<circle cx="608.3" cy="660.4" r="4.95"/>
<circle cx="609.6" cy="660.4" r="4.95"/>
<circle cx="610.9" cy="660.4" r="4.95"/>
<circle cx="624.5" cy="660.4" r="4.95"/>
<circle cx="640.1" cy="660.4" r="4.95"/>
<circle cx="681.9" cy="660.4" r="4.95"/>
<circle cx="693.5" cy="660.4" r="4.95"/>
<circle cx="667.8" cy="660.4" r="4.95"/>
<circle cx="669.3" cy="660.4" r="4.95"/>
<circle cx="670.7" cy="660.4" r="4.95"/>
<circle cx="672.2" cy="660.4" r="4.95"/>
<circle cx="620.0" cy="666.5" r="4.95"/>
<circle cx="627.5" cy="666.5" r="4.95"/>
<circle cx="650.2" cy="666.5" r="4.95"/>
<circle cx="719.3" cy="666.5" r="4.95"/>
<circle cx="697.1" cy="666.5" r="4.95"/>
<circle cx="698.4" cy="666.5" r="4.95"/>
<circle cx="699.7" cy="666.5" r="4.95"/>
<circle cx="701.0" cy="666.5" r="4.95"/>
<circle cx="702.3" cy="666.5" r="4.95"/>
<circle cx="703.7" cy="666.5" r="4.95"/>
<circle cx="705.0" cy="666.5" r="4.95"/>
<circle cx="706.3" cy="666.5" r="4.95"/>
<circle cx="707.6" cy="666.5" r="4.95"/>
<circle cx="708.9" cy="666.5" r="4.95"/>
<circle cx="710.2" cy="666.5" r="4.95"/>
<circle cx="626.7" cy="672.6" r="4.95"/>
<circle cx="719.3" cy="672.6" r="4.95"/>
<circle cx="698.4" cy="672.6" r="4.95"/>
<circle cx="699.7" cy="672.6" r="4.95"/>
<circle cx="701.0" cy="672.6" r="4.95"/>
<circle cx="702.3" cy="672.6" r="4.95"/>
<circle cx="703.6" cy="672.6" r="4.95"/>
<circle cx="705.0" cy="672.6" r="4.95"/>
<circle cx="706.3" cy="672.6" r="4.95"/>
<circle cx="707.6" cy="672.6" r="4.95"/>
<circle cx="708.9" cy="672.6" r="4.95"/>
<circle cx="710.2" cy="672.6" r="4.95"/>
<circle cx="714.1" cy="678.8" r="4.95"/>
<circle cx="715.4" cy="678.8" r="4.95"/>
<circle cx="716.7" cy="678.8" r="4.95"/>
<circle cx="718.0" cy="678.8" r="4.95"/>
<circle cx="719.3" cy="678.8" r="4.95"/>
<circle cx="714.1" cy="684.9" r="4.95"/>
<circle cx="715.4" cy="684.9" r="4.95"/>
<circle cx="716.7" cy="684.9" r="4.95"/>
<circle cx="718.0" cy="684.9" r="4.95"/>
<circle cx="719.3" cy="684.9" r="4.95"/>
<circle cx="722.3" cy="396.4" r="4.95"/>
<circle cx="787.2" cy="396.4" r="4.95"/>
<circle cx="795.4" cy="396.4" r="4.95"/>
<circle cx="816.3" cy="414.8" r="4.95"/>
<circle cx="939.5" cy="414.8" r="4.95"/>
<circle cx="771.4" cy="445.5" r="4.95"/>
<circle cx="775.7" cy="445.5" r="4.95"/>
<circle cx="1001.2" cy="445.5" r="4.95"/>
<circle cx="993.8" cy="457.8" r="4.95"/>
<circle cx="998.0" cy="457.8" r="4.95"/>
<circle cx="785.1" cy="476.2" r="4.95"/>
<circle cx="777.3" cy="488.5" r="4.95"/>
<circle cx="814.4" cy="488.5" r="4.95"/>
<circle cx="895.2" cy="488.5" r="4.95"/>
<circle cx="870.9" cy="506.9" r="4.95"/>
<circle cx="883.2" cy="506.9" r="4.95"/>
<circle cx="934.0" cy="506.9" r="4.95"/>
<circle cx="780.1" cy="519.2" r="4.95"/>
<circle cx="850.2" cy="519.2" r="4.95"/>
<circle cx="944.3" cy="519.2" r="4.95"/>
<circle cx="811.4" cy="537.6" r="4.95"/>
<circle cx="943.0" cy="537.6" r="4.95"/>
<circle cx="999.3" cy="537.6" r="4.95"/>
<circle cx="783.3" cy="549.9" r="4.95"/>
<circle cx="881.0" cy="549.9" r="4.95"/>
<circle cx="936.2" cy="549.9" r="4.95"/>
<circle cx="801.4" cy="568.3" r="4.95"/>
<circle cx="823.3" cy="568.3" r="4.95"/>
<circle cx="863.8" cy="568.3" r="4.95"/>
<circle cx="870.3" cy="568.3" r="4.95"/>
<circle cx="813.3" cy="605.1" r="4.95"/>
<circle cx="946.4" cy="605.1" r="4.95"/>
<circle cx="1004.6" cy="605.1" r="4.95"/>
<circle cx="799.4" cy="617.4" r="4.95"/>
<circle cx="937.5" cy="617.4" r="4.95"/>
<circle cx="1011.0" cy="617.4" r="4.95"/>
<circle cx="801.9" cy="629.7" r="4.95"/>
<circle cx="803.2" cy="629.7" r="4.95"/>
<circle cx="804.5" cy="629.7" r="4.95"/>
<circle cx="805.7" cy="629.7" r="4.95"/>
<circle cx="807.0" cy="629.7" r="4.95"/>
<circle cx="824.6" cy="629.7" r="4.95"/>
<circle cx="876.1" cy="629.7" r="4.95"/>
<circle cx="948.6" cy="629.7" r="4.95"/>
<circle cx="991.3" cy="629.7" r="4.95"/>
<circle cx="1003.7" cy="629.7" r="4.95"/>
<circle cx="1010.0" cy="629.7" r="4.95"/>
<circle cx="832.0" cy="629.7" r="4.95"/>
<circle cx="833.2" cy="629.7" r="4.95"/>
<circle cx="834.5" cy="629.7" r="4.95"/>
<circle cx="835.7" cy="629.7" r="4.95"/>
<circle cx="956.8" cy="629.7" r="4.95"/>
<circle cx="958.7" cy="629.7" r="4.95"/>
<circle cx="966.9" cy="629.7" r="4.95"/>
<circle cx="968.8" cy="629.7" r="4.95"/>
<circle cx="782.8" cy="635.8" r="4.95"/>
<circle cx="837.7" cy="635.8" r="4.95"/>
<circle cx="897.3" cy="635.8" r="4.95"/>
<circle cx="977.0" cy="635.8" r="4.95"/>
<circle cx="1007.3" cy="635.8" r="4.95"/>
<circle cx="879.7" cy="635.8" r="4.95"/>
<circle cx="881.5" cy="635.8" r="4.95"/>
<circle cx="949.5" cy="635.8" r="4.95"/>
<circle cx="951.0" cy="635.8" r="4.95"/>
<circle cx="952.5" cy="635.8" r="4.95"/>
<circle cx="954.0" cy="635.8" r="4.95"/>
<circle cx="963.3" cy="635.8" r="4.95"/>
<circle cx="964.5" cy="635.8" r="4.95"/>
<circle cx="965.8" cy="635.8" r="4.95"/>
<circle cx="967.0" cy="635.8" r="4.95"/>
<circle cx="827.5" cy="642.0" r="4.95"/>
<circle cx="899.8" cy="642.0" r="4.95"/>
<circle cx="982.5" cy="642.0" r="4.95"/>
<circle cx="1006.4" cy="642.0" r="4.95"/>
<circle cx="960.5" cy="642.0" r="4.95"/>
<circle cx="962.3" cy="642.0" r="4.95"/>
<circle cx="970.6" cy="642.0" r="4.95"/>
<circle cx="971.8" cy="642.0" r="4.95"/>
<circle cx="973.1" cy="642.0" r="4.95"/>
<circle cx="974.3" cy="642.0" r="4.95"/>
<circle cx="979.8" cy="648.1" r="4.95"/>
<circle cx="981.3" cy="648.1" r="4.95"/>
<circle cx="982.9" cy="648.1" r="4.95"/>
<circle cx="984.4" cy="648.1" r="4.95"/>
</g>
<g stroke="#b0b0b0" stroke-width="1.11" stroke-dasharray="4.11 1.78" fill="none">
<path d="M68.50 641.50H1013.50"/>
<path d="M68.50 580.50H1013.50"/>
<path d="M68.50 519.50H1013.50"/>
<path d="M68.50 457.50H1013.50"/>
<path d="M68.50 396.50H1013.50"/>
<path d="M68.50 334.50H1013.50"/>
<path d="M68.50 273.50H1013.50"/>
<path d="M68.50 211.50H1013.50"/>
<path d="M68.50 150.50H1013.50"/>
</g>
<g fill="rgb(0,128,0)" fill-opacity="0.21">
<rect x="68.50" y="89.50" width="520.10" height="614.00"/>
<rect x="68.50" y="89.50" width="1.25" height="614.00"/>
<rect x="71.85" y="89.50" width="6.90" height="614.00"/>
<rect x="80.85" y="89.50" width="15.90" height="614.00"/>
<rect x="98.85" y="89.50" width="15.00" height="614.00"/>
<rect x="115.95" y="89.50" width="16.80" height="614.00"/>
<rect x="134.85" y="89.50" width="16.80" height="614.00"/>
<rect x="153.75" y="89.50" width="16.10" height="614.00"/>
<rect x="171.95" y="89.50" width="15.90" height="614.00"/>
<rect x="189.95" y="89.50" width="15.90" height="614.00"/>
<rect x="207.95" y="89.50" width="16.80" height="614.00"/>
<rect x="226.85" y="89.50" width="16.20" height="614.00"/>
<rect x="245.15" y="89.50" width="15.50" height="614.00"/>
<rect x="262.75" y="89.50" width="15.10" height="614.00"/>
<rect x="279.95" y="89.50" width="15.90" height="614.00"/>
<rect x="297.95" y="89.50" width="16.70" height="614.00"/>
<rect x="316.75" y="89.50" width="16.40" height="614.00"/>
<rect x="335.25" y="89.50" width="16.60" height="614.00"/>
<rect x="353.95" y="89.50" width="13.90" height="614.00"/>
<rect x="369.95" y="89.50" width="16.50" height="614.00"/>
<rect x="388.55" y="89.50" width="16.20" height="614.00"/>
<rect x="406.85" y="89.50" width="16.20" height="614.00"/>
<rect x="425.15" y="89.50" width="16.80" height="614.00"/>
<rect x="444.05" y="89.50" width="16.80" height="614.00"/>
<rect x="462.95" y="89.50" width="14.80" height="614.00"/>
<rect x="479.85" y="89.50" width="14.90" height="614.00"/>
<rect x="496.85" y="89.50" width="13.90" height="614.00"/>
<rect x="512.85" y="89.50" width="15.00" height="614.00"/>
<rect x="529.95" y="89.50" width="16.00" height="614.00"/>
<rect x="548.05" y="89.50" width="0.90" height="614.00"/>
<rect x="551.05" y="89.50" width="2.90" height="614.00"/>
<rect x="556.05" y="89.50" width="15.90" height="614.00"/>
<rect x="574.05" y="89.50" width="14.55" height="614.00"/>
<rect x="692.00" y="89.50" width="9.60" height="614.00"/>
<rect x="695.00" y="89.50" width="6.60" height="614.00"/>
<rect x="714.10" y="89.50" width="7.80" height="614.00"/>
<rect x="716.90" y="89.50" width="5.00" height="614.00"/>
<rect x="720.20" y="89.50" width="1.70" height="614.00"/>
<rect x="720.20" y="89.50" width="1.70" height="614.00"/>
</g>
<g fill="#f00">
<circle cx="68.5" cy="523.3" r="4.95"/>
<circle cx="69.8" cy="523.2" r="4.95"/>
<circle cx="71.1" cy="524.8" r="4.95"/>
<circle cx="72.5" cy="524.0" r="4.95"/>
<circle cx="73.8" cy="525.6" r="4.95"/>
<circle cx="75.1" cy="525.9" r="4.95"/>
<circle cx="76.4" cy="525.9" r="4.95"/>
<circle cx="77.7" cy="527.5" r="4.95"/>
<circle cx="79.1" cy="526.7" r="4.95"/>
<circle cx="80.4" cy="528.0" r="4.95"/>
<circle cx="81.7" cy="527.2" r="4.95"/>
<circle cx="83.0" cy="526.0" r="4.95"/>
<circle cx="84.3" cy="525.7" r="4.95"/>
<circle cx="85.7" cy="525.7" r="4.95"/>
<circle cx="87.0" cy="523.2" r="4.95"/>
<circle cx="88.3" cy="522.6" r="4.95"/>
<circle cx="89.6" cy="523.3" r="4.95"/>
<circle cx="90.9" cy="523.8" r="4.95"/>
<circle cx="92.3" cy="522.4" r="4.95"/>
<circle cx="93.6" cy="521.3" r="4.95"/>
<circle cx="94.9" cy="522.1" r="4.95"/>
<circle cx="96.2" cy="519.7" r="4.95"/>
<circle cx="97.5" cy="521.7" r="4.95"/>
<circle cx="98.9" cy="520.6" r="4.95"/>
<circle cx="100.2" cy="520.5" r="4.95"/>
<circle cx="101.5" cy="520.8" r="4.95"/>
<circle cx="102.8" cy="521.5" r="4.95"/>
<circle cx="104.1" cy="523.0" r="4.95"/>
<circle cx="105.5" cy="521.9" r="4.95"/>
<circle cx="106.8" cy="523.0" r="4.95"/>
<circle cx="108.1" cy="523.2" r="4.95"/>
<circle cx="109.4" cy="522.5" r="4.95"/>
<circle cx="110.7" cy="522.9" r="4.95"/>
<circle cx="112.1" cy="521.8" r="4.95"/>
<circle cx="113.4" cy="521.8" r="4.95"/>
<circle cx="114.7" cy="522.2" r="4.95"/>
<circle cx="116.0" cy="523.4" r="4.95"/>
<circle cx="117.3" cy="522.9" r="4.95"/>
<circle cx="118.7" cy="522.6" r="4.95"/>
<circle cx="120.0" cy="523.5" r="4.95"/>
<circle cx="121.3" cy="523.4" r="4.95"/>
<circle cx="122.6" cy="523.3" r="4.95"/>
<circle cx="123.9" cy="524.7" r="4.95"/>
<circle cx="125.3" cy="524.7" r="4.95"/>
<circle cx="126.6" cy="523.7" r="4.95"/>
<circle cx="127.9" cy="524.3" r="4.95"/>
<circle cx="129.2" cy="524.0" r="4.95"/>
<circle cx="130.5" cy="524.6" r="4.95"/>
<circle cx="131.9" cy="524.1" r="4.95"/>
<circle cx="133.2" cy="522.9" r="4.95"/>
<circle cx="134.5" cy="524.6" r="4.95"/>
<circle cx="135.8" cy="522.6" r="4.95"/>
<circle cx="137.1" cy="523.3" r="4.95"/>
<circle cx="138.5" cy="524.1" r="4.95"/>
<circle cx="139.8" cy="522.7" r="4.95"/>
<circle cx="141.1" cy="523.4" r="4.95"/>
<circle cx="142.4" cy="522.2" r="4.95"/>
<circle cx="143.7" cy="523.5" r="4.95"/>
<circle cx="145.1" cy="523.6" r="4.95"/>
<circle cx="146.4" cy="522.9" r="4.95"/>
<circle cx="147.7" cy="523.5" r="4.95"/>
<circle cx="149.0" cy="522.2" r="4.95"/>
<circle cx="150.3" cy="523.2" r="4.95"/>
<circle cx="151.7" cy="523.0" r="4.95"/>
<circle cx="153.0" cy="522.9" r="4.95"/>
<circle cx="154.3" cy="522.6" r="4.95"/>
<circle cx="155.6" cy="523.2" r="4.95"/>
<circle cx="156.9" cy="523.1" r="4.95"/>
<circle cx="158.3" cy="521.7" r="4.95"/>
<circle cx="159.6" cy="521.9" r="4.95"/>
<circle cx="160.9" cy="520.1" r="4.95"/>
<circle cx="162.2" cy="520.9" r="4.95"/>
<circle cx="163.5" cy="520.2" r="4.95"/>
<circle cx="164.9" cy="520.4" r="4.95"/>
<circle cx="166.2" cy="519.3" r="4.95"/>
<circle cx="167.5" cy="517.5" r="4.95"/>
<circle cx="168.8" cy="517.1" r="4.95"/>
<circle cx="170.1" cy="517.2" r="4.95"/>
<circle cx="171.5" cy="515.8" r="4.95"/>
<circle cx="172.8" cy="516.9" r="4.95"/>
<circle cx="174.1" cy="516.3" r="4.95"/>
<circle cx="175.4" cy="516.3" r="4.95"/>
<circle cx="176.7" cy="516.3" r="4.95"/>
<circle cx="178.1" cy="518.0" r="4.95"/>
<circle cx="179.4" cy="516.7" r="4.95"/>
<circle cx="180.7" cy="517.0" r="4.95"/>
<circle cx="182.0" cy="517.5" r="4.95"/>
<circle cx="183.3" cy="518.5" r="4.95"/>
<circle cx="184.7" cy="516.4" r="4.95"/>
<circle cx="186.0" cy="517.0" r="4.95"/>
<circle cx="187.3" cy="517.0" r="4.95"/>
<circle cx="188.6" cy="517.5" r="4.95"/>
<circle cx="189.9" cy="517.1" r="4.95"/>
<circle cx="191.3" cy="517.0" r="4.95"/>
<circle cx="192.6" cy="515.4" r="4.95"/>
<circle cx="193.9" cy="515.7" r="4.95"/>
<circle cx="195.2" cy="515.9" r="4.95"/>
<circle cx="196.5" cy="517.6" r="4.95"/>
<circle cx="197.9" cy="518.5" r="4.95"/>
<circle cx="199.2" cy="517.3" r="4.95"/>
<circle cx="200.5" cy="518.1" r="4.95"/>
<circle cx="201.8" cy="518.9" r="4.95"/>
<circle cx="203.1" cy="519.6" r="4.95"/>
<circle cx="204.5" cy="520.4" r="4.95"/>
<circle cx="205.8" cy="520.7" r="4.95"/>
<circle cx="207.1" cy="520.1" r="4.95"/>
<circle cx="208.4" cy="519.5" r="4.95"/>
<circle cx="209.7" cy="520.6" r="4.95"/>
<circle cx="211.1" cy="520.7" r="4.95"/>
<circle cx="212.4" cy="521.5" r="4.95"/>
<circle cx="213.7" cy="522.7" r="4.95"/>
<circle cx="215.0" cy="522.4" r="4.95"/>
<circle cx="216.3" cy="521.8" r="4.95"/>
<circle cx="217.7" cy="521.8" r="4.95"/>
<circle cx="219.0" cy="521.7" r="4.95"/>
<circle cx="220.3" cy="519.9" r="4.95"/>
<circle cx="221.6" cy="521.6" r="4.95"/>
<circle cx="222.9" cy="521.1" r="4.95"/>
<circle cx="224.3" cy="521.1" r="4.95"/>
<circle cx="225.6" cy="520.8" r="4.95"/>
<circle cx="226.9" cy="519.8" r="4.95"/>
<circle cx="228.2" cy="519.8" r="4.95"/>
<circle cx="229.5" cy="519.1" r="4.95"/>
<circle cx="230.9" cy="520.3" r="4.95"/>
<circle cx="232.2" cy="518.7" r="4.95"/>
<circle cx="233.5" cy="518.4" r="4.95"/>
<circle cx="234.8" cy="518.4" r="4.95"/>
<circle cx="236.1" cy="517.9" r="4.95"/>
<circle cx="237.5" cy="518.0" r="4.95"/>
<circle cx="238.8" cy="517.0" r="4.95"/>
<circle cx="240.1" cy="515.7" r="4.95"/>
<circle cx="241.4" cy="514.6" r="4.95"/>
<circle cx="242.7" cy="513.0" r="4.95"/>
<circle cx="244.1" cy="512.5" r="4.95"/>
<circle cx="245.4" cy="510.8" r="4.95"/>
<circle cx="246.7" cy="512.3" r="4.95"/>
<circle cx="248.0" cy="513.6" r="4.95"/>
<circle cx="249.3" cy="514.4" r="4.95"/>
<circle cx="250.7" cy="515.9" r="4.95"/>
<circle cx="252.0" cy="516.5" r="4.95"/>
<circle cx="253.3" cy="516.8" r="4.95"/>
<circle cx="254.6" cy="516.5" r="4.95"/>
<circle cx="255.9" cy="518.7" r="4.95"/>
<circle cx="257.3" cy="519.9" r="4.95"/>
<circle cx="258.6" cy="519.5" r="4.95"/>
<circle cx="259.9" cy="520.2" r="4.95"/>
<circle cx="261.2" cy="519.8" r="4.95"/>
<circle cx="262.5" cy="520.5" r="4.95"/>
<circle cx="263.9" cy="521.6" r="4.95"/>
<circle cx="265.2" cy="520.9" r="4.95"/>
<circle cx="266.5" cy="521.6" r="4.95"/>
<circle cx="267.8" cy="519.7" r="4.95"/>
<circle cx="269.1" cy="519.0" r="4.95"/>
<circle cx="270.5" cy="520.8" r="4.95"/>
<circle cx="271.8" cy="519.8" r="4.95"/>
<circle cx="273.1" cy="520.2" r="4.95"/>
<circle cx="274.4" cy="522.6" r="4.95"/>
<circle cx="275.7" cy="522.8" r="4.95"/>
<circle cx="277.1" cy="525.4" r="4.95"/>
<circle cx="278.4" cy="527.6" r="4.95"/>
<circle cx="279.7" cy="527.7" r="4.95"/>
<circle cx="281.0" cy="527.7" r="4.95"/>
<circle cx="282.3" cy="526.9" r="4.95"/>
<circle cx="283.7" cy="527.4" r="4.95"/>
<circle cx="285.0" cy="527.2" r="4.95"/>
<circle cx="286.3" cy="528.3" r="4.95"/>
<circle cx="287.6" cy="527.4" r="4.95"/>
<circle cx="288.9" cy="527.7" r="4.95"/>
<circle cx="290.3" cy="526.3" r="4.95"/>
<circle cx="291.6" cy="525.8" r="4.95"/>
<circle cx="292.9" cy="526.9" r="4.95"/>
<circle cx="294.2" cy="527.5" r="4.95"/>
<circle cx="295.5" cy="528.2" r="4.95"/>
<circle cx="296.9" cy="529.1" r="4.95"/>
<circle cx="298.2" cy="530.1" r="4.95"/>
<circle cx="299.5" cy="530.8" r="4.95"/>
<circle cx="300.8" cy="529.4" r="4.95"/>
<circle cx="302.1" cy="529.6" r="4.95"/>
<circle cx="303.5" cy="528.7" r="4.95"/>
<circle cx="304.8" cy="527.5" r="4.95"/>
<circle cx="306.1" cy="527.1" r="4.95"/>
<circle cx="307.4" cy="528.3" r="4.95"/>
<circle cx="308.7" cy="529.0" r="4.95"/>
<circle cx="310.1" cy="531.0" r="4.95"/>
<circle cx="311.4" cy="532.7" r="4.95"/>
<circle cx="312.7" cy="532.5" r="4.95"/>
<circle cx="314.0" cy="534.6" r="4.95"/>
<circle cx="315.3" cy="534.6" r="4.95"/>
<circle cx="316.7" cy="533.5" r="4.95"/>
<circle cx="318.0" cy="531.2" r="4.95"/>
<circle cx="319.3" cy="529.9" r="4.95"/>
<circle cx="320.6" cy="529.1" r="4.95"/>
<circle cx="321.9" cy="529.6" r="4.95"/>
<circle cx="323.3" cy="530.3" r="4.95"/>
<circle cx="324.6" cy="532.1" r="4.95"/>
<circle cx="325.9" cy="533.5" r="4.95"/>
<circle cx="327.2" cy="534.1" r="4.95"/>
<circle cx="328.5" cy="534.1" r="4.95"/>
<circle cx="329.9" cy="535.5" r="4.95"/>
<circle cx="331.2" cy="537.0" r="4.95"/>
<circle cx="332.5" cy="536.2" r="4.95"/>
<circle cx="333.8" cy="538.1" r="4.95"/>
<circle cx="335.1" cy="539.2" r="4.95"/>
<circle cx="336.5" cy="539.3" r="4.95"/>
<circle cx="337.8" cy="539.4" r="4.95"/>
<circle cx="339.1" cy="539.0" r="4.95"/>
<circle cx="340.4" cy="538.9" r="4.95"/>
<circle cx="341.7" cy="541.3" r="4.95"/>
<circle cx="343.1" cy="541.1" r="4.95"/>
<circle cx="344.4" cy="543.3" r="4.95"/>
<circle cx="345.7" cy="545.1" r="4.95"/>
<circle cx="347.0" cy="545.7" r="4.95"/>
<circle cx="348.3" cy="547.7" r="4.95"/>
<circle cx="349.7" cy="550.8" r="4.95"/>
<circle cx="351.0" cy="551.9" r="4.95"/>
<circle cx="352.3" cy="552.3" r="4.95"/>
<circle cx="353.6" cy="553.9" r="4.95"/>
<circle cx="354.9" cy="555.2" r="4.95"/>
<circle cx="356.3" cy="557.6" r="4.95"/>
<circle cx="357.6" cy="557.8" r="4.95"/>
<circle cx="358.9" cy="556.5" r="4.95"/>
<circle cx="360.2" cy="558.3" r="4.95"/>
<circle cx="361.5" cy="558.9" r="4.95"/>
<circle cx="362.9" cy="558.2" r="4.95"/>
<circle cx="364.2" cy="557.5" r="4.95"/>
<circle cx="365.5" cy="558.2" r="4.95"/>
<circle cx="366.8" cy="557.6" r="4.95"/>
<circle cx="368.1" cy="557.6" r="4.95"/>
<circle cx="369.5" cy="560.1" r="4.95"/>
<circle cx="370.8" cy="559.5" r="4.95"/>
<circle cx="372.1" cy="559.2" r="4.95"/>
<circle cx="373.4" cy="560.2" r="4.95"/>
<circle cx="374.7" cy="559.1" r="4.95"/>
<circle cx="376.1" cy="560.2" r="4.95"/>
<circle cx="377.4" cy="560.1" r="4.95"/>
<circle cx="378.7" cy="558.9" r="4.95"/>
<circle cx="380.0" cy="559.0" r="4.95"/>
<circle cx="381.3" cy="559.2" r="4.95"/>
<circle cx="382.7" cy="559.1" r="4.95"/>
<circle cx="384.0" cy="560.0" r="4.95"/>
<circle cx="385.3" cy="559.2" r="4.95"/>
<circle cx="386.6" cy="559.3" r="4.95"/>
<circle cx="387.9" cy="558.4" r="4.95"/>
<circle cx="389.3" cy="560.0" r="4.95"/>
<circle cx="390.6" cy="558.5" r="4.95"/>
<circle cx="391.9" cy="558.5" r="4.95"/>
<circle cx="393.2" cy="558.6" r="4.95"/>
<circle cx="394.5" cy="559.2" r="4.95"/>
<circle cx="395.9" cy="557.9" r="4.95"/>
<circle cx="397.2" cy="558.9" r="4.95"/>
<circle cx="398.5" cy="557.5" r="4.95"/>
<circle cx="399.8" cy="557.0" r="4.95"/>
<circle cx="401.1" cy="556.3" r="4.95"/>
<circle cx="402.5" cy="554.5" r="4.95"/>
<circle cx="403.8" cy="554.8" r="4.95"/>
<circle cx="405.1" cy="553.5" r="4.95"/>
<circle cx="406.4" cy="552.5" r="4.95"/>
<circle cx="407.7" cy="554.1" r="4.95"/>
<circle cx="409.1" cy="552.3" r="4.95"/>
<circle cx="410.4" cy="552.7" r="4.95"/>
<circle cx="411.7" cy="552.9" r="4.95"/>
<circle cx="413.0" cy="552.2" r="4.95"/>
<circle cx="414.3" cy="551.1" r="4.95"/>
<circle cx="415.7" cy="550.9" r="4.95"/>
<circle cx="417.0" cy="550.4" r="4.95"/>
<circle cx="418.3" cy="551.3" r="4.95"/>
<circle cx="419.6" cy="550.5" r="4.95"/>
<circle cx="420.9" cy="552.6" r="4.95"/>
<circle cx="422.3" cy="553.0" r="4.95"/>
<circle cx="423.6" cy="554.2" r="4.95"/>
<circle cx="424.9" cy="556.1" r="4.95"/>
<circle cx="426.2" cy="555.7" r="4.95"/>
<circle cx="427.5" cy="555.8" r="4.95"/>
<circle cx="428.9" cy="556.0" r="4.95"/>
<circle cx="430.2" cy="556.1" r="4.95"/>
<circle cx="431.5" cy="554.8" r="4.95"/>
<circle cx="431.9" cy="556.0" r="4.95"/>
<circle cx="433.2" cy="557.2" r="4.95"/>
<circle cx="434.5" cy="558.6" r="4.95"/>
<circle cx="435.9" cy="560.4" r="4.95"/>
<circle cx="437.2" cy="560.8" r="4.95"/>
<circle cx="438.5" cy="562.2" r="4.95"/>
<circle cx="439.8" cy="562.8" r="4.95"/>
<circle cx="441.1" cy="565.1" r="4.95"/>
<circle cx="442.5" cy="565.1" r="4.95"/>
<circle cx="443.8" cy="566.4" r="4.95"/>
<circle cx="445.1" cy="564.5" r="4.95"/>
<circle cx="446.4" cy="559.6" r="4.95"/>
<circle cx="447.7" cy="558.3" r="4.95"/>
<circle cx="449.1" cy="559.3" r="4.95"/>
<circle cx="450.4" cy="558.8" r="4.95"/>
<circle cx="451.7" cy="556.5" r="4.95"/>
<circle cx="453.0" cy="556.3" r="4.95"/>
<circle cx="454.3" cy="556.7" r="4.95"/>
<circle cx="455.7" cy="554.7" r="4.95"/>
<circle cx="457.0" cy="554.1" r="4.95"/>
<circle cx="458.3" cy="552.1" r="4.95"/>
<circle cx="459.6" cy="551.7" r="4.95"/>
<circle cx="460.9" cy="549.6" r="4.95"/>
<circle cx="462.3" cy="547.6" r="4.95"/>
<circle cx="463.6" cy="542.7" r="4.95"/>
<circle cx="464.9" cy="541.9" r="4.95"/>
<circle cx="466.2" cy="539.2" r="4.95"/>
<circle cx="467.5" cy="535.2" r="4.95"/>
<circle cx="468.9" cy="535.2" r="4.95"/>
<circle cx="470.2" cy="533.5" r="4.95"/>
<circle cx="471.5" cy="532.6" r="4.95"/>
<circle cx="472.8" cy="536.8" r="4.95"/>
<circle cx="474.1" cy="537.0" r="4.95"/>
<circle cx="475.5" cy="540.9" r="4.95"/>
<circle cx="476.8" cy="545.8" r="4.95"/>
<circle cx="478.1" cy="548.0" r="4.95"/>
<circle cx="479.4" cy="548.3" r="4.95"/>
<circle cx="480.7" cy="551.8" r="4.95"/>
<circle cx="482.1" cy="554.6" r="4.95"/>
<circle cx="483.4" cy="556.5" r="4.95"/>
<circle cx="484.7" cy="558.5" r="4.95"/>
<circle cx="486.0" cy="561.4" r="4.95"/>
<circle cx="487.3" cy="564.2" r="4.95"/>
<circle cx="488.7" cy="562.6" r="4.95"/>
<circle cx="490.0" cy="565.0" r="4.95"/>
<circle cx="491.3" cy="565.0" r="4.95"/>
<circle cx="492.6" cy="564.1" r="4.95"/>
<circle cx="493.9" cy="565.5" r="4.95"/>
<circle cx="495.3" cy="565.3" r="4.95"/>
<circle cx="496.6" cy="563.7" r="4.95"/>
<circle cx="497.9" cy="558.1" r="4.95"/>
<circle cx="499.2" cy="555.6" r="4.95"/>
<circle cx="500.5" cy="550.2" r="4.95"/>
<circle cx="501.9" cy="552.8" r="4.95"/>
<circle cx="503.2" cy="552.0" r="4.95"/>
<circle cx="504.5" cy="555.3" r="4.95"/>
<circle cx="505.8" cy="557.6" r="4.95"/>
<circle cx="507.1" cy="563.0" r="4.95"/>
<circle cx="508.5" cy="563.8" r="4.95"/>
<circle cx="509.8" cy="565.1" r="4.95"/>
<circle cx="511.1" cy="567.8" r="4.95"/>
<circle cx="512.4" cy="570.8" r="4.95"/>
<circle cx="513.7" cy="571.9" r="4.95"/>
<circle cx="515.1" cy="571.1" r="4.95"/>
<circle cx="516.4" cy="571.7" r="4.95"/>
<circle cx="517.7" cy="575.3" r="4.95"/>
<circle cx="519.0" cy="575.4" r="4.95"/>
<circle cx="520.3" cy="574.9" r="4.95"/>
<circle cx="521.7" cy="571.3" r="4.95"/>
<circle cx="523.0" cy="569.7" r="4.95"/>
<circle cx="524.3" cy="570.8" r="4.95"/>
<circle cx="525.6" cy="569.0" r="4.95"/>
<circle cx="526.9" cy="566.8" r="4.95"/>
<circle cx="528.3" cy="569.1" r="4.95"/>
<circle cx="529.6" cy="568.3" r="4.95"/>
<circle cx="530.9" cy="569.0" r="4.95"/>
<circle cx="532.2" cy="566.8" r="4.95"/>
<circle cx="533.5" cy="569.6" r="4.95"/>
<circle cx="534.9" cy="567.3" r="4.95"/>
<circle cx="536.2" cy="570.2" r="4.95"/>
<circle cx="537.5" cy="569.2" r="4.95"/>
<circle cx="538.8" cy="569.2" r="4.95"/>
<circle cx="540.1" cy="570.3" r="4.95"/>
<circle cx="541.5" cy="572.0" r="4.95"/>
<circle cx="542.8" cy="569.9" r="4.95"/>
<circle cx="544.1" cy="569.3" r="4.95"/>
<circle cx="545.4" cy="570.4" r="4.95"/>
<circle cx="546.7" cy="569.1" r="4.95"/>
<circle cx="548.1" cy="568.2" r="4.95"/>
<circle cx="549.4" cy="568.1" r="4.95"/>
<circle cx="550.7" cy="567.5" r="4.95"/>
<circle cx="552.0" cy="567.7" r="4.95"/>
<circle cx="553.3" cy="567.8" r="4.95"/>
<circle cx="554.7" cy="567.6" r="4.95"/>
<circle cx="556.0" cy="568.7" r="4.95"/>
<circle cx="557.3" cy="566.6" r="4.95"/>
<circle cx="558.6" cy="566.7" r="4.95"/>
<circle cx="559.9" cy="565.0" r="4.95"/>
<circle cx="561.3" cy="565.3" r="4.95"/>
<circle cx="562.6" cy="564.0" r="4.95"/>
<circle cx="563.9" cy="565.3" r="4.95"/>
<circle cx="565.2" cy="565.5" r="4.95"/>
<circle cx="566.5" cy="568.9" r="4.95"/>
<circle cx="567.9" cy="569.2" r="4.95"/>
<circle cx="569.2" cy="568.8" r="4.95"/>
<circle cx="579.0" cy="559.1" r="4.95"/>
<circle cx="580.3" cy="563.5" r="4.95"/>
<circle cx="581.6" cy="564.3" r="4.95"/>
<circle cx="583.0" cy="567.1" r="4.95"/>
<circle cx="584.3" cy="566.8" r="4.95"/>
<circle cx="585.6" cy="567.8" r="4.95"/>
<circle cx="586.9" cy="569.4" r="4.95"/>
<circle cx="588.2" cy="569.0" r="4.95"/>
<circle cx="589.6" cy="570.4" r="4.95"/>
<circle cx="590.9" cy="572.0" r="4.95"/>
<circle cx="592.2" cy="573.8" r="4.95"/>
<circle cx="593.5" cy="573.3" r="4.95"/>
<circle cx="594.8" cy="575.7" r="4.95"/>
<circle cx="596.2" cy="577.0" r="4.95"/>
<circle cx="597.5" cy="578.6" r="4.95"/>
<circle cx="598.8" cy="579.7" r="4.95"/>
<circle cx="600.1" cy="581.3" r="4.95"/>
<circle cx="601.4" cy="581.6" r="4.95"/>
<circle cx="602.8" cy="582.8" r="4.95"/>
<circle cx="604.1" cy="583.6" r="4.95"/>
<circle cx="605.4" cy="586.4" r="4.95"/>
<circle cx="606.7" cy="586.1" r="4.95"/>
<circle cx="608.0" cy="586.9" r="4.95"/>
<circle cx="609.4" cy="587.9" r="4.95"/>
<circle cx="610.7" cy="591.3" r="4.95"/>
<circle cx="612.0" cy="592.7" r="4.95"/>
<circle cx="613.3" cy="593.6" r="4.95"/>
<circle cx="614.6" cy="594.0" r="4.95"/>
<circle cx="616.0" cy="595.0" r="4.95"/>
<circle cx="617.3" cy="595.3" r="4.95"/>
<circle cx="618.6" cy="595.8" r="4.95"/>
<circle cx="619.9" cy="595.1" r="4.95"/>
<circle cx="621.2" cy="595.9" r="4.95"/>
<circle cx="622.6" cy="595.8" r="4.95"/>
<circle cx="623.9" cy="598.4" r="4.95"/>
<circle cx="625.2" cy="599.3" r="4.95"/>
<circle cx="626.5" cy="599.1" r="4.95"/>
<circle cx="627.8" cy="599.2" r="4.95"/>
<circle cx="629.2" cy="601.6" r="4.95"/>
<circle cx="630.5" cy="600.2" r="4.95"/>
<circle cx="631.8" cy="600.6" r="4.95"/>
<circle cx="633.1" cy="599.9" r="4.95"/>
<circle cx="634.4" cy="601.2" r="4.95"/>
<circle cx="635.8" cy="601.8" r="4.95"/>
<circle cx="637.1" cy="602.1" r="4.95"/>
<circle cx="638.4" cy="601.6" r="4.95"/>
<circle cx="639.7" cy="602.6" r="4.95"/>
<circle cx="641.0" cy="601.9" r="4.95"/>
<circle cx="642.4" cy="603.4" r="4.95"/>
<circle cx="643.7" cy="603.6" r="4.95"/>
<circle cx="645.0" cy="605.2" r="4.95"/>
<circle cx="646.3" cy="605.0" r="4.95"/>
<circle cx="647.6" cy="606.1" r="4.95"/>
<circle cx="649.0" cy="608.0" r="4.95"/>
<circle cx="650.3" cy="609.0" r="4.95"/>
<circle cx="651.6" cy="611.0" r="4.95"/>
<circle cx="652.9" cy="611.8" r="4.95"/>
<circle cx="654.2" cy="613.2" r="4.95"/>
<circle cx="655.6" cy="613.5" r="4.95"/>
<circle cx="656.9" cy="614.2" r="4.95"/>
<circle cx="658.2" cy="615.2" r="4.95"/>
<circle cx="659.5" cy="614.7" r="4.95"/>
<circle cx="660.8" cy="615.2" r="4.95"/>
<circle cx="662.2" cy="617.7" r="4.95"/>
<circle cx="663.5" cy="616.0" r="4.95"/>
<circle cx="664.8" cy="617.4" r="4.95"/>
<circle cx="666.1" cy="617.1" r="4.95"/>
<circle cx="667.4" cy="615.3" r="4.95"/>
<circle cx="668.8" cy="617.2" r="4.95"/>
<circle cx="670.1" cy="617.2" r="4.95"/>
<circle cx="671.4" cy="616.1" r="4.95"/>
<circle cx="672.7" cy="616.1" r="4.95"/>
<circle cx="674.0" cy="616.0" r="4.95"/>
<circle cx="675.4" cy="614.1" r="4.95"/>
<circle cx="676.7" cy="614.8" r="4.95"/>
<circle cx="678.0" cy="614.5" r="4.95"/>
<circle cx="679.3" cy="615.4" r="4.95"/>
<circle cx="680.6" cy="615.4" r="4.95"/>
<circle cx="682.0" cy="615.6" r="4.95"/>
<circle cx="683.3" cy="615.1" r="4.95"/>
<circle cx="684.6" cy="616.0" r="4.95"/>
<circle cx="685.9" cy="615.6" r="4.95"/>
<circle cx="687.2" cy="615.9" r="4.95"/>
<circle cx="688.6" cy="615.0" r="4.95"/>
<circle cx="689.9" cy="614.8" r="4.95"/>
<circle cx="691.2" cy="615.3" r="4.95"/>
<circle cx="692.5" cy="616.2" r="4.95"/>
<circle cx="693.8" cy="616.0" r="4.95"/>
<circle cx="695.2" cy="619.1" r="4.95"/>
<circle cx="696.5" cy="619.6" r="4.95"/>
<circle cx="697.8" cy="621.0" r="4.95"/>
<circle cx="699.1" cy="622.2" r="4.95"/>
<circle cx="700.4" cy="623.0" r="4.95"/>
<circle cx="701.8" cy="622.7" r="4.95"/>
<circle cx="703.1" cy="621.7" r="4.95"/>
<circle cx="704.4" cy="624.0" r="4.95"/>
<circle cx="705.7" cy="624.1" r="4.95"/>
<circle cx="707.0" cy="623.7" r="4.95"/>
<circle cx="708.4" cy="623.7" r="4.95"/>
<circle cx="709.7" cy="624.1" r="4.95"/>
<circle cx="711.0" cy="622.8" r="4.95"/>
<circle cx="712.3" cy="624.7" r="4.95"/>
<circle cx="713.6" cy="623.7" r="4.95"/>
<circle cx="715.0" cy="623.5" r="4.95"/>
<circle cx="716.3" cy="624.4" r="4.95"/>
<circle cx="717.6" cy="626.0" r="4.95"/>
<circle cx="718.9" cy="625.2" r="4.95"/>
<circle cx="720.2" cy="627.2" r="4.95"/>
<circle cx="721.6" cy="628.4" r="4.95"/>
<circle cx="722.9" cy="627.8" r="4.95"/>
<circle cx="724.2" cy="628.1" r="4.95"/>
<circle cx="725.5" cy="629.0" r="4.95"/>
<circle cx="726.8" cy="629.9" r="4.95"/>
<circle cx="728.2" cy="630.6" r="4.95"/>
<circle cx="729.5" cy="631.0" r="4.95"/>
<circle cx="730.8" cy="631.9" r="4.95"/>
<circle cx="732.1" cy="631.2" r="4.95"/>
<circle cx="733.4" cy="632.2" r="4.95"/>
<circle cx="734.8" cy="633.3" r="4.95"/>
<circle cx="736.1" cy="635.0" r="4.95"/>
<circle cx="737.4" cy="634.2" r="4.95"/>
<circle cx="738.7" cy="635.3" r="4.95"/>
<circle cx="740.0" cy="634.2" r="4.95"/>
<circle cx="741.4" cy="634.6" r="4.95"/>
<circle cx="742.7" cy="635.2" r="4.95"/>
<circle cx="744.0" cy="635.9" r="4.95"/>
<circle cx="745.3" cy="635.6" r="4.95"/>
<circle cx="746.6" cy="635.2" r="4.95"/>
<circle cx="748.0" cy="635.6" r="4.95"/>
<circle cx="749.3" cy="637.5" r="4.95"/>
<circle cx="750.6" cy="638.2" r="4.95"/>
<circle cx="751.9" cy="639.0" r="4.95"/>
<circle cx="753.2" cy="638.8" r="4.95"/>
<circle cx="754.6" cy="640.7" r="4.95"/>
<circle cx="755.9" cy="638.9" r="4.95"/>
<circle cx="757.2" cy="640.9" r="4.95"/>
<circle cx="758.5" cy="640.9" r="4.95"/>
<circle cx="759.8" cy="638.5" r="4.95"/>
<circle cx="761.2" cy="639.4" r="4.95"/>
<circle cx="762.5" cy="639.9" r="4.95"/>
<circle cx="763.8" cy="640.1" r="4.95"/>
<circle cx="765.1" cy="638.7" r="4.95"/>
<circle cx="766.4" cy="638.2" r="4.95"/>
<circle cx="767.8" cy="638.0" r="4.95"/>
<circle cx="769.1" cy="639.9" r="4.95"/>
<circle cx="770.4" cy="637.8" r="4.95"/>
<circle cx="771.7" cy="638.5" r="4.95"/>
<circle cx="773.0" cy="637.6" r="4.95"/>
<circle cx="774.4" cy="638.9" r="4.95"/>
<circle cx="775.7" cy="640.3" r="4.95"/>
<circle cx="777.0" cy="638.4" r="4.95"/>
<circle cx="778.3" cy="640.5" r="4.95"/>
<circle cx="779.6" cy="640.0" r="4.95"/>
<circle cx="781.0" cy="641.4" r="4.95"/>
<circle cx="782.3" cy="641.5" r="4.95"/>
<circle cx="783.6" cy="640.8" r="4.95"/>
<circle cx="784.9" cy="643.1" r="4.95"/>
<circle cx="786.2" cy="642.6" r="4.95"/>
<circle cx="787.6" cy="642.0" r="4.95"/>
<circle cx="788.9" cy="642.5" r="4.95"/>
<circle cx="790.2" cy="644.1" r="4.95"/>
<circle cx="791.5" cy="643.8" r="4.95"/>
<circle cx="792.8" cy="643.2" r="4.95"/>
<circle cx="794.2" cy="642.5" r="4.95"/>
<circle cx="795.5" cy="642.7" r="4.95"/>
<circle cx="796.8" cy="642.4" r="4.95"/>
<circle cx="798.1" cy="643.7" r="4.95"/>
<circle cx="799.4" cy="642.0" r="4.95"/>
<circle cx="800.8" cy="644.4" r="4.95"/>
<circle cx="802.1" cy="645.1" r="4.95"/>
<circle cx="803.4" cy="643.7" r="4.95"/>
<circle cx="804.7" cy="646.3" r="4.95"/>
<circle cx="806.0" cy="646.1" r="4.95"/>
<circle cx="807.4" cy="646.7" r="4.95"/>
<circle cx="808.7" cy="645.0" r="4.95"/>
<circle cx="810.0" cy="645.2" r="4.95"/>
<circle cx="811.3" cy="645.2" r="4.95"/>
<circle cx="812.6" cy="646.9" r="4.95"/>
<circle cx="814.0" cy="646.3" r="4.95"/>
<circle cx="815.3" cy="646.6" r="4.95"/>
<circle cx="816.6" cy="647.6" r="4.95"/>
<circle cx="817.9" cy="648.1" r="4.95"/>
<circle cx="819.2" cy="648.2" r="4.95"/>
<circle cx="820.6" cy="647.8" r="4.95"/>
<circle cx="821.9" cy="649.3" r="4.95"/>
<circle cx="823.2" cy="647.4" r="4.95"/>
<circle cx="824.5" cy="648.6" r="4.95"/>
<circle cx="825.8" cy="647.3" r="4.95"/>
<circle cx="827.2" cy="648.1" r="4.95"/>
<circle cx="828.5" cy="649.4" r="4.95"/>
<circle cx="829.8" cy="649.3" r="4.95"/>
<circle cx="831.1" cy="650.4" r="4.95"/>
<circle cx="832.4" cy="652.7" r="4.95"/>
<circle cx="833.8" cy="653.1" r="4.95"/>
<circle cx="835.1" cy="653.5" r="4.95"/>
<circle cx="836.4" cy="653.6" r="4.95"/>
<circle cx="837.7" cy="654.9" r="4.95"/>
<circle cx="839.0" cy="655.6" r="4.95"/>
<circle cx="840.4" cy="655.0" r="4.95"/>
<circle cx="841.7" cy="655.6" r="4.95"/>
<circle cx="843.0" cy="653.7" r="4.95"/>
<circle cx="844.3" cy="655.1" r="4.95"/>
<circle cx="845.6" cy="653.9" r="4.95"/>
<circle cx="847.0" cy="654.2" r="4.95"/>
<circle cx="848.3" cy="653.8" r="4.95"/>
<circle cx="849.6" cy="652.8" r="4.95"/>
<circle cx="850.9" cy="652.0" r="4.95"/>
<circle cx="852.2" cy="654.1" r="4.95"/>
<circle cx="853.6" cy="651.8" r="4.95"/>
<circle cx="854.9" cy="652.8" r="4.95"/>
<circle cx="856.2" cy="652.7" r="4.95"/>
<circle cx="857.5" cy="652.8" r="4.95"/>
<circle cx="858.8" cy="654.2" r="4.95"/>
<circle cx="860.2" cy="655.0" r="4.95"/>
<circle cx="861.5" cy="653.2" r="4.95"/>
<circle cx="862.8" cy="653.8" r="4.95"/>
<circle cx="864.1" cy="652.7" r="4.95"/>
<circle cx="865.4" cy="653.2" r="4.95"/>
<circle cx="866.8" cy="652.6" r="4.95"/>
<circle cx="868.1" cy="651.8" r="4.95"/>
<circle cx="869.4" cy="651.8" r="4.95"/>
<circle cx="870.7" cy="652.0" r="4.95"/>
<circle cx="872.0" cy="653.8" r="4.95"/>
<circle cx="873.4" cy="652.9" r="4.95"/>
<circle cx="874.7" cy="652.2" r="4.95"/>
<circle cx="876.0" cy="653.9" r="4.95"/>
<circle cx="877.3" cy="654.0" r="4.95"/>
<circle cx="878.6" cy="652.4" r="4.95"/>
<circle cx="880.0" cy="651.5" r="4.95"/>
<circle cx="881.3" cy="651.8" r="4.95"/>
<circle cx="882.6" cy="652.2" r="4.95"/>
<circle cx="883.9" cy="653.9" r="4.95"/>
<circle cx="885.2" cy="654.2" r="4.95"/>
<circle cx="886.6" cy="655.6" r="4.95"/>
<circle cx="887.9" cy="656.7" r="4.95"/>
<circle cx="889.2" cy="658.2" r="4.95"/>
<circle cx="890.5" cy="658.4" r="4.95"/>
<circle cx="891.8" cy="657.4" r="4.95"/>
<circle cx="893.2" cy="655.8" r="4.95"/>
<circle cx="894.5" cy="655.1" r="4.95"/>
<circle cx="895.8" cy="654.9" r="4.95"/>
<circle cx="897.1" cy="655.2" r="4.95"/>
<circle cx="898.4" cy="655.7" r="4.95"/>
<circle cx="899.8" cy="655.6" r="4.95"/>
<circle cx="901.1" cy="656.9" r="4.95"/>
<circle cx="902.4" cy="659.3" r="4.95"/>
<circle cx="903.7" cy="657.7" r="4.95"/>
<circle cx="905.0" cy="659.0" r="4.95"/>
<circle cx="906.4" cy="659.6" r="4.95"/>
<circle cx="907.7" cy="660.4" r="4.95"/>
<circle cx="909.0" cy="659.0" r="4.95"/>
<circle cx="910.3" cy="659.3" r="4.95"/>
<circle cx="911.6" cy="659.1" r="4.95"/>
<circle cx="913.0" cy="659.3" r="4.95"/>
<circle cx="914.3" cy="659.3" r="4.95"/>
<circle cx="915.6" cy="660.5" r="4.95"/>
<circle cx="916.9" cy="660.1" r="4.95"/>
<circle cx="918.2" cy="660.4" r="4.95"/>
<circle cx="919.6" cy="658.4" r="4.95"/>
<circle cx="920.9" cy="658.7" r="4.95"/>
<circle cx="922.2" cy="660.7" r="4.95"/>
<circle cx="923.5" cy="661.1" r="4.95"/>
<circle cx="924.8" cy="659.8" r="4.95"/>
<circle cx="926.2" cy="659.9" r="4.95"/>
<circle cx="927.5" cy="658.2" r="4.95"/>
<circle cx="928.8" cy="659.0" r="4.95"/>
<circle cx="930.1" cy="660.2" r="4.95"/>
<circle cx="931.4" cy="659.7" r="4.95"/>
<circle cx="932.8" cy="659.5" r="4.95"/>
<circle cx="934.1" cy="659.5" r="4.95"/>
<circle cx="935.4" cy="657.9" r="4.95"/>
<circle cx="936.7" cy="657.9" r="4.95"/>
<circle cx="938.0" cy="658.3" r="4.95"/>
<circle cx="939.4" cy="659.8" r="4.95"/>
<circle cx="940.7" cy="660.7" r="4.95"/>
<circle cx="942.0" cy="661.7" r="4.95"/>
<circle cx="943.3" cy="661.3" r="4.95"/>
<circle cx="944.6" cy="661.3" r="4.95"/>
<circle cx="946.0" cy="661.3" r="4.95"/>
<circle cx="947.3" cy="660.1" r="4.95"/>
<circle cx="948.6" cy="660.0" r="4.95"/>
<circle cx="949.9" cy="658.3" r="4.95"/>
<circle cx="951.2" cy="659.8" r="4.95"/>
<circle cx="952.6" cy="658.3" r="4.95"/>
<circle cx="953.9" cy="660.4" r="4.95"/>
<circle cx="955.2" cy="660.1" r="4.95"/>
<circle cx="956.5" cy="659.6" r="4.95"/>
<circle cx="957.8" cy="659.5" r="4.95"/>
<circle cx="959.2" cy="660.1" r="4.95"/>
<circle cx="960.5" cy="661.0" r="4.95"/>
<circle cx="961.8" cy="661.1" r="4.95"/>
<circle cx="963.1" cy="659.5" r="4.95"/>
<circle cx="964.4" cy="659.3" r="4.95"/>
<circle cx="965.8" cy="660.3" r="4.95"/>
<circle cx="967.1" cy="660.2" r="4.95"/>
<circle cx="968.4" cy="659.5" r="4.95"/>
<circle cx="969.7" cy="658.8" r="4.95"/>
<circle cx="971.0" cy="659.6" r="4.95"/>
<circle cx="972.4" cy="657.9" r="4.95"/>
<circle cx="973.7" cy="658.4" r="4.95"/>
<circle cx="975.0" cy="658.7" r="4.95"/>
<circle cx="976.3" cy="660.1" r="4.95"/>
<circle cx="977.6" cy="660.0" r="4.95"/>
<circle cx="979.0" cy="661.3" r="4.95"/>
<circle cx="980.3" cy="660.9" r="4.95"/>
<circle cx="981.6" cy="660.8" r="4.95"/>
<circle cx="982.9" cy="661.3" r="4.95"/>
<circle cx="984.2" cy="663.7" r="4.95"/>
<circle cx="985.6" cy="663.6" r="4.95"/>
<circle cx="986.9" cy="663.1" r="4.95"/>
<circle cx="988.2" cy="663.0" r="4.95"/>
<circle cx="989.5" cy="664.9" r="4.95"/>
<circle cx="990.8" cy="666.0" r="4.95"/>
<circle cx="992.2" cy="665.0" r="4.95"/>
<circle cx="993.5" cy="664.2" r="4.95"/>
<circle cx="994.8" cy="665.0" r="4.95"/>
<circle cx="996.1" cy="665.3" r="4.95"/>
<circle cx="997.4" cy="663.2" r="4.95"/>
<circle cx="998.8" cy="662.4" r="4.95"/>
<circle cx="1000.1" cy="663.0" r="4.95"/>
<circle cx="1001.4" cy="663.1" r="4.95"/>
<circle cx="1002.7" cy="663.8" r="4.95"/>
<circle cx="1004.0" cy="662.6" r="4.95"/>
<circle cx="1005.4" cy="664.6" r="4.95"/>
<circle cx="1006.7" cy="665.0" r="4.95"/>
<circle cx="1008.0" cy="664.8" r="4.95"/>
<circle cx="1009.3" cy="664.5" r="4.95"/>
<circle cx="1010.6" cy="667.0" r="4.95"/>
<circle cx="456.6" cy="556.7" r="4.95"/>
<circle cx="457.9" cy="556.7" r="4.95"/>
<circle cx="459.2" cy="554.6" r="4.95"/>
<circle cx="460.6" cy="552.8" r="4.95"/>
<circle cx="461.9" cy="555.1" r="4.95"/>
<circle cx="463.2" cy="549.9" r="4.95"/>
<circle cx="464.5" cy="556.4" r="4.95"/>
<circle cx="465.8" cy="549.6" r="4.95"/>
<circle cx="467.2" cy="543.3" r="4.95"/>
<circle cx="468.5" cy="542.2" r="4.95"/>
<circle cx="469.8" cy="544.6" r="4.95"/>
<circle cx="471.1" cy="549.4" r="4.95"/>
<circle cx="472.4" cy="555.9" r="4.95"/>
<circle cx="473.8" cy="540.3" r="4.95"/>
<circle cx="475.1" cy="546.5" r="4.95"/>
<circle cx="476.4" cy="546.0" r="4.95"/>
<circle cx="477.7" cy="556.7" r="4.95"/>
<circle cx="479.0" cy="550.0" r="4.95"/>
<circle cx="480.4" cy="551.8" r="4.95"/>
<circle cx="481.7" cy="554.3" r="4.95"/>
<circle cx="483.0" cy="556.9" r="4.95"/>
<circle cx="479.0" cy="571.0" r="4.95"/>
<circle cx="480.6" cy="570.7" r="4.95"/>
<circle cx="482.2" cy="567.7" r="4.95"/>
<circle cx="483.8" cy="573.0" r="4.95"/>
<circle cx="485.4" cy="571.6" r="4.95"/>
<circle cx="487.0" cy="559.6" r="4.95"/>
<circle cx="488.6" cy="556.7" r="4.95"/>
<circle cx="490.2" cy="571.7" r="4.95"/>
<circle cx="491.8" cy="567.9" r="4.95"/>
<circle cx="493.4" cy="553.6" r="4.95"/>
<circle cx="495.0" cy="566.3" r="4.95"/>
<circle cx="496.6" cy="560.6" r="4.95"/>
<circle cx="498.2" cy="560.5" r="4.95"/>
<circle cx="436.0" cy="565.6" r="4.95"/>
<circle cx="438.0" cy="568.3" r="4.95"/>
<circle cx="440.0" cy="571.1" r="4.95"/>
<circle cx="442.0" cy="573.0" r="4.95"/>
<circle cx="444.0" cy="574.6" r="4.95"/>
<circle cx="456.0" cy="557.7" r="4.95"/>
<circle cx="457.8" cy="557.1" r="4.95"/>
<circle cx="459.6" cy="558.8" r="4.95"/>
<circle cx="461.4" cy="558.3" r="4.95"/>
<circle cx="463.2" cy="558.5" r="4.95"/>
<circle cx="465.0" cy="558.8" r="4.95"/>
<circle cx="466.8" cy="558.4" r="4.95"/>
<circle cx="471.5" cy="573.5" r="4.95"/>
<circle cx="480.4" cy="567.1" r="4.95"/>
<circle cx="482.1" cy="550.3" r="4.95"/>
<circle cx="492.2" cy="574.5" r="4.95"/>
<circle cx="497.8" cy="573.5" r="4.95"/>
<circle cx="493.2" cy="558.4" r="4.95"/>
<circle cx="507.8" cy="571.0" r="4.95"/>
<circle cx="516.8" cy="570.4" r="4.95"/>
<circle cx="519.0" cy="579.2" r="4.95"/>
<circle cx="530.2" cy="574.9" r="4.95"/>
<circle cx="534.1" cy="566.0" r="4.95"/>
<circle cx="527.4" cy="563.7" r="4.95"/>
<circle cx="541.4" cy="572.0" r="4.95"/>
<circle cx="548.5" cy="573.0" r="4.95"/>
<circle cx="552.0" cy="565.0" r="4.95"/>
<circle cx="559.0" cy="571.5" r="4.95"/>
<circle cx="564.0" cy="562.5" r="4.95"/>
<circle cx="432.3" cy="551.4" r="4.95"/>
<circle cx="428.0" cy="559.0" r="4.95"/>
<circle cx="425.0" cy="555.0" r="4.95"/>
<circle cx="570.0" cy="549.6" r="4.95"/>
<circle cx="576.8" cy="544.4" r="4.95"/>
<circle cx="578.0" cy="550.5" r="4.95"/>
<circle cx="575.3" cy="489.1" r="4.95"/>
<circle cx="571.5" cy="593.2" r="4.95"/>
<circle cx="574.4" cy="427.2" r="4.95"/>
<circle cx="572.5" cy="552.0" r="4.95"/>
<circle cx="574.5" cy="547.0" r="4.95"/>
</g>
<g fill="#00f">
<circle cx="68.5" cy="664.8" r="4.95"/>
<circle cx="69.8" cy="662.6" r="4.95"/>
<circle cx="71.1" cy="662.3" r="4.95"/>
<circle cx="72.5" cy="660.9" r="4.95"/>
<circle cx="73.8" cy="660.9" r="4.95"/>
<circle cx="75.1" cy="657.2" r="4.95"/>
<circle cx="76.4" cy="653.6" r="4.95"/>
<circle cx="77.7" cy="650.9" r="4.95"/>
<circle cx="79.1" cy="645.6" r="4.95"/>
<circle cx="80.4" cy="644.0" r="4.95"/>
<circle cx="81.7" cy="642.3" r="4.95"/>
<circle cx="83.0" cy="641.5" r="4.95"/>
<circle cx="84.3" cy="641.1" r="4.95"/>
<circle cx="85.7" cy="642.5" r="4.95"/>
<circle cx="87.0" cy="643.9" r="4.95"/>
<circle cx="88.3" cy="648.6" r="4.95"/>
<circle cx="89.6" cy="650.6" r="4.95"/>
<circle cx="90.9" cy="655.3" r="4.95"/>
<circle cx="92.3" cy="659.1" r="4.95"/>
<circle cx="93.6" cy="659.7" r="4.95"/>
<circle cx="94.9" cy="661.5" r="4.95"/>
<circle cx="96.2" cy="665.1" r="4.95"/>
<circle cx="97.5" cy="666.3" r="4.95"/>
<circle cx="98.9" cy="666.9" r="4.95"/>
<circle cx="100.2" cy="667.3" r="4.95"/>
<circle cx="101.5" cy="665.7" r="4.95"/>
<circle cx="102.8" cy="665.0" r="4.95"/>
<circle cx="104.1" cy="663.7" r="4.95"/>
<circle cx="105.5" cy="665.8" r="4.95"/>
<circle cx="106.8" cy="666.9" r="4.95"/>
<circle cx="108.1" cy="667.0" r="4.95"/>
<circle cx="109.4" cy="668.4" r="4.95"/>
<circle cx="110.7" cy="667.0" r="4.95"/>
<circle cx="112.1" cy="668.7" r="4.95"/>
<circle cx="113.4" cy="671.4" r="4.95"/>
<circle cx="114.7" cy="674.8" r="4.95"/>
<circle cx="116.0" cy="677.0" r="4.95"/>
<circle cx="117.3" cy="677.8" r="4.95"/>
<circle cx="118.7" cy="679.7" r="4.95"/>
<circle cx="120.0" cy="679.7" r="4.95"/>
<circle cx="121.3" cy="679.0" r="4.95"/>
<circle cx="122.6" cy="679.2" r="4.95"/>
<circle cx="123.9" cy="676.6" r="4.95"/>
<circle cx="125.3" cy="677.2" r="4.95"/>
<circle cx="126.6" cy="675.9" r="4.95"/>
<circle cx="127.9" cy="674.4" r="4.95"/>
<circle cx="129.2" cy="672.6" r="4.95"/>
<circle cx="130.5" cy="670.5" r="4.95"/>
<circle cx="131.9" cy="668.2" r="4.95"/>
<circle cx="133.2" cy="666.5" r="4.95"/>
<circle cx="134.5" cy="665.2" r="4.95"/>
<circle cx="135.8" cy="666.0" r="4.95"/>
<circle cx="137.1" cy="666.1" r="4.95"/>
<circle cx="138.5" cy="668.0" r="4.95"/>
<circle cx="139.8" cy="671.0" r="4.95"/>
<circle cx="141.1" cy="671.3" r="4.95"/>
<circle cx="142.4" cy="672.3" r="4.95"/>
<circle cx="143.7" cy="671.0" r="4.95"/>
<circle cx="145.1" cy="670.6" r="4.95"/>
<circle cx="146.4" cy="668.5" r="4.95"/>
<circle cx="147.7" cy="668.4" r="4.95"/>
<circle cx="149.0" cy="666.5" r="4.95"/>
<circle cx="150.3" cy="664.8" r="4.95"/>
<circle cx="151.7" cy="660.2" r="4.95"/>
<circle cx="153.0" cy="656.9" r="4.95"/>
<circle cx="154.3" cy="654.0" r="4.95"/>
<circle cx="155.6" cy="651.9" r="4.95"/>
<circle cx="156.9" cy="650.4" r="4.95"/>
<circle cx="158.3" cy="647.8" r="4.95"/>
<circle cx="159.6" cy="645.4" r="4.95"/>
<circle cx="160.9" cy="644.4" r="4.95"/>
<circle cx="162.2" cy="645.6" r="4.95"/>
<circle cx="163.5" cy="646.4" r="4.95"/>
<circle cx="164.9" cy="647.4" r="4.95"/>
<circle cx="166.2" cy="648.3" r="4.95"/>
<circle cx="167.5" cy="648.7" r="4.95"/>
<circle cx="168.8" cy="649.1" r="4.95"/>
<circle cx="170.1" cy="652.4" r="4.95"/>
<circle cx="171.5" cy="652.8" r="4.95"/>
<circle cx="172.8" cy="655.0" r="4.95"/>
<circle cx="174.1" cy="656.1" r="4.95"/>
<circle cx="175.4" cy="657.6" r="4.95"/>
<circle cx="176.7" cy="657.0" r="4.95"/>
<circle cx="178.1" cy="657.8" r="4.95"/>
<circle cx="179.4" cy="658.5" r="4.95"/>
<circle cx="180.7" cy="658.2" r="4.95"/>
<circle cx="182.0" cy="658.0" r="4.95"/>
<circle cx="183.3" cy="655.6" r="4.95"/>
<circle cx="184.7" cy="653.4" r="4.95"/>
<circle cx="186.0" cy="651.9" r="4.95"/>
<circle cx="187.3" cy="651.6" r="4.95"/>
<circle cx="188.6" cy="651.3" r="4.95"/>
<circle cx="189.9" cy="652.2" r="4.95"/>
<circle cx="191.3" cy="655.1" r="4.95"/>
<circle cx="192.6" cy="656.2" r="4.95"/>
<circle cx="193.9" cy="658.5" r="4.95"/>
<circle cx="195.2" cy="658.7" r="4.95"/>
<circle cx="196.5" cy="661.9" r="4.95"/>
<circle cx="197.9" cy="664.8" r="4.95"/>
<circle cx="199.2" cy="666.3" r="4.95"/>
<circle cx="200.5" cy="666.6" r="4.95"/>
<circle cx="201.8" cy="664.8" r="4.95"/>
<circle cx="203.1" cy="665.6" r="4.95"/>
<circle cx="204.5" cy="665.7" r="4.95"/>
<circle cx="205.8" cy="666.4" r="4.95"/>
<circle cx="207.1" cy="668.7" r="4.95"/>
<circle cx="208.4" cy="668.4" r="4.95"/>
<circle cx="209.7" cy="669.8" r="4.95"/>
<circle cx="211.1" cy="668.8" r="4.95"/>
<circle cx="212.4" cy="670.3" r="4.95"/>
<circle cx="213.7" cy="669.6" r="4.95"/>
<circle cx="215.0" cy="669.5" r="4.95"/>
<circle cx="216.3" cy="670.6" r="4.95"/>
<circle cx="217.7" cy="667.3" r="4.95"/>
<circle cx="219.0" cy="661.8" r="4.95"/>
<circle cx="220.3" cy="659.4" r="4.95"/>
<circle cx="221.6" cy="656.3" r="4.95"/>
<circle cx="222.9" cy="653.3" r="4.95"/>
<circle cx="224.3" cy="651.6" r="4.95"/>
<circle cx="225.6" cy="649.4" r="4.95"/>
<circle cx="226.9" cy="648.4" r="4.95"/>
<circle cx="228.2" cy="647.5" r="4.95"/>
<circle cx="229.5" cy="647.8" r="4.95"/>
<circle cx="230.9" cy="650.7" r="4.95"/>
<circle cx="232.2" cy="652.3" r="4.95"/>
<circle cx="233.5" cy="654.5" r="4.95"/>
<circle cx="234.8" cy="654.3" r="4.95"/>
<circle cx="236.1" cy="653.7" r="4.95"/>
<circle cx="237.5" cy="650.9" r="4.95"/>
<circle cx="238.8" cy="647.3" r="4.95"/>
<circle cx="240.1" cy="643.2" r="4.95"/>
<circle cx="249.8" cy="642.9" r="4.95"/>
<circle cx="251.1" cy="644.8" r="4.95"/>
<circle cx="252.4" cy="646.0" r="4.95"/>
<circle cx="253.8" cy="648.1" r="4.95"/>
<circle cx="255.1" cy="651.4" r="4.95"/>
<circle cx="256.4" cy="660.4" r="4.95"/>
<circle cx="257.7" cy="670.9" r="4.95"/>
<circle cx="259.0" cy="675.9" r="4.95"/>
<circle cx="260.4" cy="680.5" r="4.95"/>
<circle cx="261.7" cy="684.3" r="4.95"/>
<circle cx="263.0" cy="686.0" r="4.95"/>
<circle cx="264.3" cy="686.6" r="4.95"/>
<circle cx="265.6" cy="687.6" r="4.95"/>
<circle cx="267.0" cy="688.5" r="4.95"/>
<circle cx="268.3" cy="685.7" r="4.95"/>
<circle cx="269.6" cy="685.0" r="4.95"/>
<circle cx="270.9" cy="686.1" r="4.95"/>
<circle cx="272.2" cy="688.2" r="4.95"/>
<circle cx="273.6" cy="691.1" r="4.95"/>
<circle cx="274.9" cy="691.8" r="4.95"/>
<circle cx="276.2" cy="689.5" r="4.95"/>
<circle cx="277.5" cy="688.2" r="4.95"/>
<circle cx="278.8" cy="688.6" r="4.95"/>
<circle cx="280.2" cy="686.5" r="4.95"/>
<circle cx="281.5" cy="685.3" r="4.95"/>
<circle cx="282.8" cy="687.4" r="4.95"/>
<circle cx="284.1" cy="686.2" r="4.95"/>
<circle cx="285.4" cy="687.0" r="4.95"/>
<circle cx="286.8" cy="685.9" r="4.95"/>
<circle cx="288.1" cy="686.0" r="4.95"/>
<circle cx="289.4" cy="684.0" r="4.95"/>
<circle cx="290.7" cy="682.4" r="4.95"/>
<circle cx="292.0" cy="681.1" r="4.95"/>
<circle cx="293.4" cy="682.6" r="4.95"/>
<circle cx="294.7" cy="683.2" r="4.95"/>
<circle cx="296.0" cy="684.0" r="4.95"/>
<circle cx="297.3" cy="682.3" r="4.95"/>
<circle cx="298.6" cy="683.6" r="4.95"/>
<circle cx="300.0" cy="682.9" r="4.95"/>
<circle cx="301.3" cy="683.0" r="4.95"/>
<circle cx="302.6" cy="681.8" r="4.95"/>
<circle cx="303.9" cy="681.7" r="4.95"/>
<circle cx="305.2" cy="681.9" r="4.95"/>
<circle cx="306.6" cy="682.7" r="4.95"/>
<circle cx="307.9" cy="680.7" r="4.95"/>
<circle cx="309.2" cy="681.8" r="4.95"/>
<circle cx="310.5" cy="682.8" r="4.95"/>
<circle cx="311.8" cy="683.4" r="4.95"/>
<circle cx="313.2" cy="681.9" r="4.95"/>
<circle cx="314.5" cy="681.9" r="4.95"/>
<circle cx="315.8" cy="683.7" r="4.95"/>
<circle cx="317.1" cy="683.7" r="4.95"/>
<circle cx="318.4" cy="682.4" r="4.95"/>
<circle cx="319.8" cy="681.3" r="4.95"/>
<circle cx="321.1" cy="683.3" r="4.95"/>
<circle cx="322.4" cy="681.8" r="4.95"/>
<circle cx="323.7" cy="682.6" r="4.95"/>
<circle cx="325.0" cy="682.0" r="4.95"/>
<circle cx="326.4" cy="682.5" r="4.95"/>
<circle cx="327.7" cy="681.0" r="4.95"/>
<circle cx="329.0" cy="682.5" r="4.95"/>
<circle cx="330.3" cy="681.7" r="4.95"/>
<circle cx="331.6" cy="682.5" r="4.95"/>
<circle cx="333.0" cy="683.9" r="4.95"/>
<circle cx="334.3" cy="683.9" r="4.95"/>
<circle cx="335.6" cy="682.5" r="4.95"/>
<circle cx="336.9" cy="682.3" r="4.95"/>
<circle cx="338.2" cy="682.3" r="4.95"/>
<circle cx="339.6" cy="682.1" r="4.95"/>
<circle cx="340.9" cy="681.3" r="4.95"/>
<circle cx="342.2" cy="680.2" r="4.95"/>
<circle cx="343.5" cy="679.8" r="4.95"/>
<circle cx="344.8" cy="680.5" r="4.95"/>
<circle cx="346.2" cy="680.6" r="4.95"/>
<circle cx="347.5" cy="678.2" r="4.95"/>
<circle cx="348.8" cy="679.0" r="4.95"/>
<circle cx="350.1" cy="679.1" r="4.95"/>
<circle cx="351.4" cy="677.1" r="4.95"/>
<circle cx="352.8" cy="678.5" r="4.95"/>
<circle cx="354.1" cy="676.4" r="4.95"/>
<circle cx="355.4" cy="677.2" r="4.95"/>
<circle cx="356.7" cy="676.7" r="4.95"/>
<circle cx="358.0" cy="676.5" r="4.95"/>
<circle cx="359.4" cy="675.6" r="4.95"/>
<circle cx="360.7" cy="675.6" r="4.95"/>
<circle cx="362.0" cy="675.8" r="4.95"/>
<circle cx="363.3" cy="675.2" r="4.95"/>
<circle cx="364.6" cy="675.4" r="4.95"/>
<circle cx="366.0" cy="674.3" r="4.95"/>
<circle cx="367.3" cy="673.4" r="4.95"/>
<circle cx="368.6" cy="671.6" r="4.95"/>
<circle cx="369.9" cy="672.1" r="4.95"/>
<circle cx="371.2" cy="671.0" r="4.95"/>
<circle cx="372.6" cy="669.7" r="4.95"/>
<circle cx="373.9" cy="670.8" r="4.95"/>
<circle cx="375.2" cy="671.0" r="4.95"/>
<circle cx="376.5" cy="670.5" r="4.95"/>
<circle cx="377.8" cy="670.0" r="4.95"/>
<circle cx="379.2" cy="671.0" r="4.95"/>
<circle cx="380.5" cy="668.3" r="4.95"/>
<circle cx="381.8" cy="665.9" r="4.95"/>
<circle cx="383.1" cy="664.1" r="4.95"/>
<circle cx="384.4" cy="660.8" r="4.95"/>
<circle cx="385.8" cy="660.9" r="4.95"/>
<circle cx="387.1" cy="661.7" r="4.95"/>
<circle cx="388.4" cy="661.2" r="4.95"/>
<circle cx="389.7" cy="663.2" r="4.95"/>
<circle cx="391.0" cy="662.5" r="4.95"/>
<circle cx="93.0" cy="662.0" r="4.95"/>
<circle cx="95.0" cy="669.0" r="4.95"/>
<circle cx="97.0" cy="674.0" r="4.95"/>
<circle cx="99.0" cy="667.0" r="4.95"/>
<circle cx="101.0" cy="675.0" r="4.95"/>
<circle cx="103.0" cy="663.0" r="4.95"/>
<circle cx="105.0" cy="672.0" r="4.95"/>
<circle cx="107.0" cy="667.0" r="4.95"/>
<circle cx="109.0" cy="675.0" r="4.95"/>
<circle cx="111.0" cy="671.0" r="4.95"/>
<circle cx="113.0" cy="676.0" r="4.95"/>
<circle cx="100.0" cy="660.0" r="4.95"/>
<circle cx="98.0" cy="664.0" r="4.95"/>
<circle cx="110.0" cy="664.0" r="4.95"/>
<circle cx="241.7" cy="626.1" r="4.95"/>
<circle cx="247.3" cy="620.5" r="4.95"/>
<circle cx="248.0" cy="629.9" r="4.95"/>
<circle cx="244.9" cy="633.6" r="4.95"/>
<circle cx="243.5" cy="655.7" r="4.95"/>
<circle cx="293.5" cy="669.1" r="4.95"/>
<circle cx="292.5" cy="676.0" r="4.95"/>
<circle cx="102.0" cy="672.0" r="4.95"/>
<circle cx="106.0" cy="676.0" r="4.95"/>
<circle cx="104.6" cy="655.7" r="4.95"/>
<circle cx="96.0" cy="672.0" r="4.95"/>
<circle cx="108.0" cy="660.0" r="4.95"/>
<circle cx="442.1" cy="582.6" r="4.95"/>
<circle cx="446.3" cy="585.9" r="4.95"/>
<circle cx="425.3" cy="595.2" r="4.95"/>
<circle cx="444.6" cy="597.7" r="4.95"/>
<circle cx="440.4" cy="604.4" r="4.95"/>
<circle cx="472.3" cy="611.1" r="4.95"/>
<circle cx="476.5" cy="611.1" r="4.95"/>
<circle cx="441.2" cy="615.3" r="4.95"/>
<circle cx="446.3" cy="612.0" r="4.95"/>
<circle cx="448.8" cy="618.7" r="4.95"/>
<circle cx="426.1" cy="617.0" r="4.95"/>
<circle cx="424.4" cy="620.4" r="4.95"/>
<circle cx="421.1" cy="623.7" r="4.95"/>
<circle cx="464.7" cy="618.7" r="4.95"/>
<circle cx="465.6" cy="623.7" r="4.95"/>
<circle cx="463.1" cy="628.8" r="4.95"/>
<circle cx="470.6" cy="625.4" r="4.95"/>
<circle cx="476.5" cy="629.6" r="4.95"/>
<circle cx="438.7" cy="627.1" r="4.95"/>
<circle cx="502.0" cy="620.4" r="4.95"/>
<circle cx="429.5" cy="632.1" r="4.95"/>
<circle cx="433.7" cy="637.2" r="4.95"/>
<circle cx="437.0" cy="638.8" r="4.95"/>
<circle cx="432.0" cy="641.3" r="4.95"/>
<circle cx="451.3" cy="633.0" r="4.95"/>
<circle cx="448.8" cy="638.0" r="4.95"/>
<circle cx="457.2" cy="639.7" r="4.95"/>
<circle cx="461.4" cy="637.1" r="4.95"/>
<circle cx="458.9" cy="644.7" r="4.95"/>
<circle cx="468.1" cy="635.5" r="4.95"/>
<circle cx="472.3" cy="640.5" r="4.95"/>
<circle cx="489.1" cy="633.0" r="4.95"/>
<circle cx="499.2" cy="631.3" r="4.95"/>
<circle cx="484.9" cy="639.7" r="4.95"/>
<circle cx="492.4" cy="637.1" r="4.95"/>
<circle cx="497.5" cy="643.0" r="4.95"/>
<circle cx="485.7" cy="645.5" r="4.95"/>
<circle cx="396.8" cy="640.5" r="4.95"/>
<circle cx="393.4" cy="645.5" r="4.95"/>
<circle cx="392.6" cy="652.3" r="4.95"/>
<circle cx="400.9" cy="652.3" r="4.95"/>
<circle cx="401.8" cy="657.3" r="4.95"/>
<circle cx="406.8" cy="637.1" r="4.95"/>
<circle cx="413.5" cy="634.6" r="4.95"/>
<circle cx="421.1" cy="635.5" r="4.95"/>
<circle cx="410.2" cy="648.9" r="4.95"/>
<circle cx="416.9" cy="653.9" r="4.95"/>
<circle cx="419.4" cy="643.9" r="4.95"/>
<circle cx="388.4" cy="659.0" r="4.95"/>
<circle cx="391.7" cy="663.2" r="4.95"/>
<circle cx="385.0" cy="667.4" r="4.95"/>
<circle cx="412.4" cy="665.2" r="4.95"/>
<circle cx="395.1" cy="646.1" r="4.95"/>
<circle cx="406.1" cy="652.5" r="4.95"/>
<circle cx="409.8" cy="636.9" r="4.95"/>
<circle cx="417.1" cy="653.5" r="4.95"/>
<circle cx="420.8" cy="644.3" r="4.95"/>
<circle cx="422.6" cy="635.1" r="4.95"/>
<circle cx="404.0" cy="645.0" r="4.95"/>
<circle cx="398.0" cy="649.0" r="4.95"/>
<circle cx="414.0" cy="641.0" r="4.95"/>
<circle cx="452.1" cy="653.1" r="4.95"/>
<circle cx="458.9" cy="653.9" r="4.95"/>
<circle cx="455.5" cy="660.6" r="4.95"/>
<circle cx="474.0" cy="654.8" r="4.95"/>
<circle cx="479.0" cy="652.3" r="4.95"/>
<circle cx="473.1" cy="665.7" r="4.95"/>
<circle cx="477.3" cy="665.7" r="4.95"/>
<circle cx="487.4" cy="657.3" r="4.95"/>
<circle cx="492.4" cy="659.0" r="4.95"/>
<circle cx="485.7" cy="664.0" r="4.95"/>
<circle cx="494.1" cy="667.4" r="4.95"/>
<circle cx="491.6" cy="674.1" r="4.95"/>
<circle cx="484.0" cy="651.0" r="4.95"/>
<circle cx="488.5" cy="648.0" r="4.95"/>
<circle cx="503.3" cy="654.8" r="4.95"/>
<circle cx="513.4" cy="653.9" r="4.95"/>
<circle cx="505.9" cy="664.0" r="4.95"/>
<circle cx="510.1" cy="669.9" r="4.95"/>
<circle cx="517.6" cy="664.0" r="4.95"/>
<circle cx="519.3" cy="670.7" r="4.95"/>
<circle cx="525.0" cy="664.0" r="4.95"/>
<circle cx="502.5" cy="620.4" r="4.95"/>
<circle cx="500.0" cy="632.1" r="4.95"/>
<circle cx="500.0" cy="643.0" r="4.95"/>
<circle cx="576.4" cy="580.9" r="4.95"/>
<circle cx="570.5" cy="617.3" r="4.95"/>
<circle cx="577.2" cy="653.1" r="4.95"/>
<circle cx="578.9" cy="658.1" r="4.95"/>
<circle cx="569.7" cy="663.2" r="4.95"/>
<circle cx="504.2" cy="654.8" r="4.95"/>
<circle cx="506.7" cy="664.0" r="4.95"/>
<circle cx="516.8" cy="661.5" r="4.95"/>
<circle cx="525.2" cy="661.5" r="4.95"/>
<circle cx="510.1" cy="670.7" r="4.95"/>
<circle cx="518.5" cy="671.6" r="4.95"/>
<circle cx="527.7" cy="667.4" r="4.95"/>
<circle cx="534.4" cy="667.4" r="4.95"/>
<circle cx="531.1" cy="677.4" r="4.95"/>
<circle cx="533.6" cy="684.1" r="4.95"/>
<circle cx="540.3" cy="688.3" r="4.95"/>
<circle cx="540.3" cy="674.1" r="4.95"/>
<circle cx="546.2" cy="666.5" r="4.95"/>
<circle cx="552.0" cy="665.7" r="4.95"/>
<circle cx="548.7" cy="677.4" r="4.95"/>
<circle cx="557.1" cy="674.1" r="4.95"/>
<circle cx="562.1" cy="670.7" r="4.95"/>
<circle cx="558.8" cy="680.8" r="4.95"/>
<circle cx="567.1" cy="677.4" r="4.95"/>
<circle cx="553.7" cy="690.0" r="4.95"/>
<circle cx="560.4" cy="687.5" r="4.95"/>
<circle cx="567.1" cy="690.9" r="4.95"/>
<circle cx="563.8" cy="695.9" r="4.95"/>
<circle cx="558.8" cy="695.1" r="4.95"/>
<circle cx="536.0" cy="681.0" r="4.95"/>
<circle cx="544.0" cy="682.0" r="4.95"/>
<circle cx="550.0" cy="672.0" r="4.95"/>
<circle cx="522.0" cy="667.0" r="4.95"/>
<circle cx="513.0" cy="664.0" r="4.95"/>
<circle cx="586.5" cy="667.4" r="4.95"/>
<circle cx="580.6" cy="679.1" r="4.95"/>
<circle cx="499.3" cy="536.9" r="4.95"/>
<circle cx="500.1" cy="559.3" r="4.95"/>
<circle cx="571.5" cy="533.5" r="4.95"/>
<circle cx="576.2" cy="581.3" r="4.95"/>
<circle cx="570.6" cy="617.1" r="4.95"/>
<circle cx="502.5" cy="619.9" r="4.95"/>
<circle cx="574.4" cy="208.3" r="4.95"/>
<circle cx="575.6" cy="250.4" r="4.95"/>
<circle cx="572.4" cy="341.2" r="4.95"/>
<circle cx="444.7" cy="597.5" r="4.95"/>
<circle cx="441.9" cy="602.2" r="4.95"/>
<circle cx="465.2" cy="618.1" r="4.95"/>
<circle cx="470.8" cy="610.6" r="4.95"/>
<circle cx="464.3" cy="625.5" r="4.95"/>
<circle cx="583.0" cy="674.7" r="4.95"/>
<circle cx="584.3" cy="674.8" r="4.95"/>
<circle cx="585.6" cy="674.3" r="4.95"/>
<circle cx="587.0" cy="673.5" r="4.95"/>
<circle cx="588.3" cy="676.8" r="4.95"/>
<circle cx="589.6" cy="679.9" r="4.95"/>
<circle cx="590.9" cy="683.5" r="4.95"/>
<circle cx="592.2" cy="682.4" r="4.95"/>
<circle cx="593.6" cy="684.1" r="4.95"/>
<circle cx="594.9" cy="685.0" r="4.95"/>
<circle cx="596.2" cy="685.4" r="4.95"/>
<circle cx="597.5" cy="686.3" r="4.95"/>
<circle cx="598.8" cy="684.6" r="4.95"/>
<circle cx="600.2" cy="685.4" r="4.95"/>
<circle cx="601.5" cy="684.0" r="4.95"/>
<circle cx="602.8" cy="684.1" r="4.95"/>
<circle cx="604.1" cy="683.3" r="4.95"/>
<circle cx="605.4" cy="681.3" r="4.95"/>
<circle cx="606.8" cy="681.7" r="4.95"/>
<circle cx="608.1" cy="681.2" r="4.95"/>
<circle cx="609.4" cy="678.9" r="4.95"/>
<circle cx="610.7" cy="678.6" r="4.95"/>
<circle cx="612.0" cy="678.9" r="4.95"/>
<circle cx="613.4" cy="677.3" r="4.95"/>
<circle cx="614.7" cy="678.2" r="4.95"/>
<circle cx="616.0" cy="676.6" r="4.95"/>
<circle cx="617.3" cy="677.5" r="4.95"/>
<circle cx="618.6" cy="673.6" r="4.95"/>
<circle cx="620.0" cy="677.6" r="4.95"/>
<circle cx="621.3" cy="681.9" r="4.95"/>
<circle cx="622.6" cy="684.3" r="4.95"/>
<circle cx="623.9" cy="687.6" r="4.95"/>
<circle cx="625.2" cy="691.2" r="4.95"/>
<circle cx="626.6" cy="693.1" r="4.95"/>
<circle cx="627.9" cy="693.9" r="4.95"/>
<circle cx="629.2" cy="695.5" r="4.95"/>
<circle cx="630.5" cy="696.7" r="4.95"/>
<circle cx="631.8" cy="696.9" r="4.95"/>
<circle cx="633.2" cy="695.2" r="4.95"/>
<circle cx="634.5" cy="694.4" r="4.95"/>
<circle cx="635.8" cy="692.0" r="4.95"/>
<circle cx="637.1" cy="692.5" r="4.95"/>
<circle cx="638.4" cy="690.8" r="4.95"/>
<circle cx="639.8" cy="691.0" r="4.95"/>
<circle cx="641.1" cy="690.6" r="4.95"/>
<circle cx="642.4" cy="689.8" r="4.95"/>
<circle cx="643.7" cy="691.5" r="4.95"/>
<circle cx="645.0" cy="691.8" r="4.95"/>
<circle cx="646.4" cy="692.8" r="4.95"/>
<circle cx="647.7" cy="694.3" r="4.95"/>
<circle cx="649.0" cy="693.7" r="4.95"/>
<circle cx="650.3" cy="695.0" r="4.95"/>
<circle cx="651.6" cy="694.0" r="4.95"/>
<circle cx="653.0" cy="693.0" r="4.95"/>
<circle cx="654.3" cy="693.1" r="4.95"/>
<circle cx="655.6" cy="691.6" r="4.95"/>
<circle cx="656.9" cy="692.9" r="4.95"/>
<circle cx="658.2" cy="693.9" r="4.95"/>
<circle cx="659.6" cy="695.2" r="4.95"/>
<circle cx="660.9" cy="697.1" r="4.95"/>
<circle cx="662.2" cy="696.2" r="4.95"/>
<circle cx="663.5" cy="695.4" r="4.95"/>
<circle cx="664.8" cy="694.5" r="4.95"/>
<circle cx="666.2" cy="691.4" r="4.95"/>
<circle cx="667.5" cy="691.1" r="4.95"/>
<circle cx="668.8" cy="688.4" r="4.95"/>
<circle cx="670.1" cy="687.2" r="4.95"/>
<circle cx="671.4" cy="685.6" r="4.95"/>
<circle cx="672.8" cy="682.8" r="4.95"/>
<circle cx="674.1" cy="680.9" r="4.95"/>
<circle cx="675.4" cy="678.3" r="4.95"/>
<circle cx="676.7" cy="678.6" r="4.95"/>
<circle cx="678.0" cy="681.9" r="4.95"/>
<circle cx="679.4" cy="684.8" r="4.95"/>
<circle cx="680.7" cy="684.6" r="4.95"/>
<circle cx="682.0" cy="683.3" r="4.95"/>
<circle cx="683.3" cy="682.4" r="4.95"/>
<circle cx="684.6" cy="682.0" r="4.95"/>
<circle cx="686.0" cy="679.9" r="4.95"/>
<circle cx="687.3" cy="679.7" r="4.95"/>
<circle cx="688.6" cy="680.1" r="4.95"/>
<circle cx="689.9" cy="678.6" r="4.95"/>
<circle cx="691.2" cy="678.2" r="4.95"/>
<circle cx="692.6" cy="678.5" r="4.95"/>
<circle cx="693.9" cy="680.7" r="4.95"/>
<circle cx="695.2" cy="684.4" r="4.95"/>
<circle cx="696.5" cy="686.6" r="4.95"/>
<circle cx="697.8" cy="688.2" r="4.95"/>
<circle cx="699.2" cy="689.2" r="4.95"/>
<circle cx="700.5" cy="689.5" r="4.95"/>
<circle cx="701.8" cy="691.1" r="4.95"/>
<circle cx="703.1" cy="691.7" r="4.95"/>
<circle cx="704.4" cy="692.0" r="4.95"/>
<circle cx="705.8" cy="694.3" r="4.95"/>
<circle cx="707.1" cy="693.9" r="4.95"/>
<circle cx="708.4" cy="693.4" r="4.95"/>
<circle cx="709.7" cy="692.7" r="4.95"/>
<circle cx="711.0" cy="693.0" r="4.95"/>
<circle cx="712.4" cy="692.8" r="4.95"/>
<circle cx="713.7" cy="692.0" r="4.95"/>
<circle cx="715.0" cy="691.5" r="4.95"/>
<circle cx="716.3" cy="692.9" r="4.95"/>
<circle cx="717.6" cy="694.0" r="4.95"/>
<circle cx="719.0" cy="696.7" r="4.95"/>
<circle cx="720.3" cy="697.7" r="4.95"/>
<circle cx="721.6" cy="698.0" r="4.95"/>
<circle cx="722.9" cy="699.2" r="4.95"/>
<circle cx="724.2" cy="699.5" r="4.95"/>
<circle cx="725.6" cy="701.0" r="4.95"/>
<circle cx="726.9" cy="701.3" r="4.95"/>
<circle cx="728.2" cy="700.5" r="4.95"/>
<circle cx="729.5" cy="701.5" r="4.95"/>
<circle cx="730.8" cy="699.8" r="4.95"/>
<circle cx="732.2" cy="700.5" r="4.95"/>
<circle cx="733.5" cy="700.1" r="4.95"/>
<circle cx="734.8" cy="699.7" r="4.95"/>
<circle cx="736.1" cy="699.5" r="4.95"/>
<circle cx="737.4" cy="701.0" r="4.95"/>
<circle cx="738.8" cy="699.8" r="4.95"/>
<circle cx="740.1" cy="700.9" r="4.95"/>
<circle cx="741.4" cy="701.8" r="4.95"/>
<circle cx="742.7" cy="700.5" r="4.95"/>
<circle cx="744.0" cy="700.7" r="4.95"/>
<circle cx="745.4" cy="701.4" r="4.95"/>
<circle cx="746.7" cy="701.2" r="4.95"/>
<circle cx="748.0" cy="701.4" r="4.95"/>
<circle cx="749.3" cy="701.8" r="4.95"/>
<circle cx="750.6" cy="700.9" r="4.95"/>
<circle cx="752.0" cy="701.5" r="4.95"/>
<circle cx="753.3" cy="701.8" r="4.95"/>
<circle cx="754.6" cy="701.6" r="4.95"/>
<circle cx="755.9" cy="703.4" r="4.95"/>
<circle cx="757.2" cy="703.4" r="4.95"/>
<circle cx="758.6" cy="703.4" r="4.95"/>
<circle cx="759.9" cy="701.8" r="4.95"/>
<circle cx="761.2" cy="703.0" r="4.95"/>
<circle cx="762.5" cy="702.5" r="4.95"/>
<circle cx="763.8" cy="701.8" r="4.95"/>
<circle cx="765.2" cy="702.1" r="4.95"/>
<circle cx="766.5" cy="701.5" r="4.95"/>
<circle cx="767.8" cy="700.9" r="4.95"/>
<circle cx="769.1" cy="700.5" r="4.95"/>
<circle cx="770.4" cy="700.5" r="4.95"/>
<circle cx="771.8" cy="700.0" r="4.95"/>
<circle cx="773.1" cy="700.4" r="4.95"/>
<circle cx="774.4" cy="701.0" r="4.95"/>
<circle cx="775.7" cy="700.8" r="4.95"/>
<circle cx="777.0" cy="701.0" r="4.95"/>
<circle cx="778.4" cy="700.7" r="4.95"/>
<circle cx="779.7" cy="699.8" r="4.95"/>
<circle cx="781.0" cy="700.3" r="4.95"/>
<circle cx="782.3" cy="700.0" r="4.95"/>
<circle cx="783.6" cy="701.0" r="4.95"/>
<circle cx="785.0" cy="700.7" r="4.95"/>
<circle cx="786.3" cy="700.4" r="4.95"/>
<circle cx="787.6" cy="701.3" r="4.95"/>
<circle cx="788.9" cy="702.0" r="4.95"/>
<circle cx="790.2" cy="700.9" r="4.95"/>
<circle cx="791.6" cy="702.3" r="4.95"/>
<circle cx="792.9" cy="700.6" r="4.95"/>
<circle cx="794.2" cy="700.8" r="4.95"/>
<circle cx="795.5" cy="700.6" r="4.95"/>
<circle cx="796.8" cy="701.4" r="4.95"/>
<circle cx="798.2" cy="701.6" r="4.95"/>
<circle cx="799.5" cy="701.0" r="4.95"/>
<circle cx="800.8" cy="700.1" r="4.95"/>
<circle cx="802.1" cy="700.9" r="4.95"/>
<circle cx="803.4" cy="699.7" r="4.95"/>
<circle cx="804.8" cy="699.4" r="4.95"/>
<circle cx="806.1" cy="700.3" r="4.95"/>
<circle cx="807.4" cy="699.6" r="4.95"/>
<circle cx="808.7" cy="699.5" r="4.95"/>
<circle cx="810.0" cy="699.2" r="4.95"/>
<circle cx="811.4" cy="699.5" r="4.95"/>
<circle cx="812.7" cy="698.5" r="4.95"/>
<circle cx="814.0" cy="699.2" r="4.95"/>
<circle cx="815.3" cy="699.4" r="4.95"/>
<circle cx="816.6" cy="700.0" r="4.95"/>
<circle cx="818.0" cy="699.7" r="4.95"/>
<circle cx="819.3" cy="700.5" r="4.95"/>
<circle cx="820.6" cy="700.1" r="4.95"/>
<circle cx="821.9" cy="698.8" r="4.95"/>
<circle cx="823.2" cy="697.5" r="4.95"/>
<circle cx="824.6" cy="697.1" r="4.95"/>
<circle cx="825.9" cy="695.2" r="4.95"/>
<circle cx="827.2" cy="696.5" r="4.95"/>
<circle cx="828.5" cy="695.0" r="4.95"/>
<circle cx="829.8" cy="694.6" r="4.95"/>
<circle cx="831.2" cy="694.7" r="4.95"/>
<circle cx="832.5" cy="696.6" r="4.95"/>
<circle cx="833.8" cy="695.9" r="4.95"/>
<circle cx="835.1" cy="695.9" r="4.95"/>
<circle cx="836.4" cy="696.0" r="4.95"/>
<circle cx="837.8" cy="696.4" r="4.95"/>
<circle cx="839.1" cy="698.3" r="4.95"/>
<circle cx="840.4" cy="699.3" r="4.95"/>
<circle cx="841.7" cy="700.7" r="4.95"/>
<circle cx="843.0" cy="702.0" r="4.95"/>
<circle cx="844.4" cy="701.5" r="4.95"/>
<circle cx="845.7" cy="702.2" r="4.95"/>
<circle cx="847.0" cy="701.6" r="4.95"/>
<circle cx="848.3" cy="701.9" r="4.95"/>
<circle cx="849.6" cy="701.5" r="4.95"/>
<circle cx="851.0" cy="701.6" r="4.95"/>
<circle cx="852.3" cy="700.6" r="4.95"/>
<circle cx="853.6" cy="702.5" r="4.95"/>
<circle cx="854.9" cy="703.2" r="4.95"/>
<circle cx="856.2" cy="703.8" r="4.95"/>
<circle cx="857.6" cy="702.3" r="4.95"/>
<circle cx="858.9" cy="702.0" r="4.95"/>
<circle cx="860.2" cy="701.4" r="4.95"/>
<circle cx="861.5" cy="700.8" r="4.95"/>
<circle cx="862.8" cy="701.6" r="4.95"/>
<circle cx="864.2" cy="700.9" r="4.95"/>
<circle cx="865.5" cy="700.0" r="4.95"/>
<circle cx="866.8" cy="699.8" r="4.95"/>
<circle cx="868.1" cy="698.9" r="4.95"/>
<circle cx="869.4" cy="698.0" r="4.95"/>
<circle cx="870.8" cy="697.4" r="4.95"/>
<circle cx="872.1" cy="697.1" r="4.95"/>
<circle cx="873.4" cy="698.0" r="4.95"/>
<circle cx="874.7" cy="696.7" r="4.95"/>
<circle cx="876.0" cy="697.0" r="4.95"/>
<circle cx="877.4" cy="697.3" r="4.95"/>
<circle cx="878.7" cy="696.8" r="4.95"/>
<circle cx="880.0" cy="697.4" r="4.95"/>
<circle cx="881.3" cy="697.6" r="4.95"/>
<circle cx="882.6" cy="698.5" r="4.95"/>
<circle cx="884.0" cy="698.0" r="4.95"/>
<circle cx="885.3" cy="698.7" r="4.95"/>
<circle cx="886.6" cy="700.9" r="4.95"/>
<circle cx="887.9" cy="701.1" r="4.95"/>
<circle cx="889.2" cy="702.7" r="4.95"/>
<circle cx="890.6" cy="702.2" r="4.95"/>
<circle cx="891.9" cy="700.2" r="4.95"/>
<circle cx="893.2" cy="699.9" r="4.95"/>
<circle cx="894.5" cy="699.0" r="4.95"/>
<circle cx="895.8" cy="698.7" r="4.95"/>
<circle cx="897.2" cy="697.3" r="4.95"/>
<circle cx="898.5" cy="698.1" r="4.95"/>
<circle cx="899.8" cy="698.9" r="4.95"/>
<circle cx="901.1" cy="699.4" r="4.95"/>
<circle cx="902.4" cy="701.6" r="4.95"/>
<circle cx="903.8" cy="701.1" r="4.95"/>
<circle cx="905.1" cy="703.2" r="4.95"/>
<circle cx="906.4" cy="702.6" r="4.95"/>
<circle cx="907.7" cy="702.3" r="4.95"/>
<circle cx="909.0" cy="702.6" r="4.95"/>
<circle cx="910.4" cy="703.7" r="4.95"/>
<circle cx="911.7" cy="704.3" r="4.95"/>
<circle cx="913.0" cy="702.7" r="4.95"/>
<circle cx="914.3" cy="703.8" r="4.95"/>
<circle cx="915.6" cy="704.0" r="4.95"/>
<circle cx="917.0" cy="704.5" r="4.95"/>
<circle cx="918.3" cy="703.2" r="4.95"/>
<circle cx="919.6" cy="703.5" r="4.95"/>
<circle cx="920.9" cy="703.0" r="4.95"/>
<circle cx="922.2" cy="703.7" r="4.95"/>
<circle cx="923.6" cy="702.4" r="4.95"/>
<circle cx="924.9" cy="703.6" r="4.95"/>
<circle cx="926.2" cy="702.4" r="4.95"/>
<circle cx="927.5" cy="702.1" r="4.95"/>
<circle cx="928.8" cy="702.8" r="4.95"/>
<circle cx="930.2" cy="702.1" r="4.95"/>
<circle cx="931.5" cy="701.2" r="4.95"/>
<circle cx="932.8" cy="701.8" r="4.95"/>
<circle cx="934.1" cy="700.5" r="4.95"/>
<circle cx="935.4" cy="701.4" r="4.95"/>
<circle cx="936.8" cy="701.2" r="4.95"/>
<circle cx="938.1" cy="701.3" r="4.95"/>
<circle cx="939.4" cy="700.8" r="4.95"/>
<circle cx="940.7" cy="700.1" r="4.95"/>
<circle cx="942.0" cy="700.0" r="4.95"/>
<circle cx="943.4" cy="699.8" r="4.95"/>
<circle cx="944.7" cy="700.5" r="4.95"/>
<circle cx="946.0" cy="698.7" r="4.95"/>
<circle cx="947.3" cy="699.7" r="4.95"/>
<circle cx="948.6" cy="697.8" r="4.95"/>
<circle cx="950.0" cy="697.8" r="4.95"/>
<circle cx="951.3" cy="697.5" r="4.95"/>
<circle cx="952.6" cy="698.4" r="4.95"/>
<circle cx="953.9" cy="697.8" r="4.95"/>
<circle cx="955.2" cy="697.7" r="4.95"/>
<circle cx="956.6" cy="698.7" r="4.95"/>
<circle cx="957.9" cy="697.6" r="4.95"/>
<circle cx="959.2" cy="698.0" r="4.95"/>
<circle cx="960.5" cy="698.2" r="4.95"/>
<circle cx="961.8" cy="698.7" r="4.95"/>
<circle cx="963.2" cy="698.7" r="4.95"/>
<circle cx="964.5" cy="698.0" r="4.95"/>
<circle cx="965.8" cy="696.9" r="4.95"/>
<circle cx="967.1" cy="696.2" r="4.95"/>
<circle cx="968.4" cy="695.3" r="4.95"/>
<circle cx="969.8" cy="695.9" r="4.95"/>
<circle cx="971.1" cy="695.0" r="4.95"/>
<circle cx="972.4" cy="694.5" r="4.95"/>
<circle cx="973.7" cy="693.1" r="4.95"/>
<circle cx="975.0" cy="694.3" r="4.95"/>
<circle cx="976.4" cy="695.6" r="4.95"/>
<circle cx="977.7" cy="695.9" r="4.95"/>
<circle cx="979.0" cy="695.7" r="4.95"/>
<circle cx="980.3" cy="696.9" r="4.95"/>
<circle cx="981.6" cy="698.0" r="4.95"/>
<circle cx="983.0" cy="697.2" r="4.95"/>
<circle cx="984.3" cy="697.5" r="4.95"/>
<circle cx="985.6" cy="698.0" r="4.95"/>
<circle cx="986.9" cy="698.9" r="4.95"/>
<circle cx="988.2" cy="699.4" r="4.95"/>
<circle cx="989.6" cy="698.4" r="4.95"/>
<circle cx="990.9" cy="698.7" r="4.95"/>
<circle cx="992.2" cy="699.1" r="4.95"/>
<circle cx="993.5" cy="699.6" r="4.95"/>
<circle cx="994.8" cy="700.1" r="4.95"/>
<circle cx="996.2" cy="699.3" r="4.95"/>
<circle cx="997.5" cy="699.4" r="4.95"/>
<circle cx="998.8" cy="699.0" r="4.95"/>
<circle cx="1000.1" cy="700.2" r="4.95"/>
<circle cx="1001.4" cy="699.6" r="4.95"/>
<circle cx="1002.8" cy="698.3" r="4.95"/>
<circle cx="1004.1" cy="699.6" r="4.95"/>
<circle cx="1005.4" cy="697.9" r="4.95"/>
<circle cx="1006.7" cy="698.3" r="4.95"/>
<circle cx="1008.0" cy="699.2" r="4.95"/>
<circle cx="1009.4" cy="698.5" r="4.95"/>
<circle cx="1010.7" cy="698.2" r="4.95"/>
<circle cx="1012.0" cy="697.6" r="4.95"/>
<circle cx="614.2" cy="666.0" r="4.95"/>
<circle cx="620.7" cy="660.7" r="4.95"/>
<circle cx="620.0" cy="660.6" r="4.95"/>
<circle cx="614.1" cy="666.5" r="4.95"/>
<circle cx="617.0" cy="663.5" r="4.95"/>
</g>
</g>
<rect x="68.50" y="89.50" width="945.00" height="614.00" fill="none" stroke="#000" stroke-width="1.11"/>
<g stroke="#000" stroke-width="1.11">
<path d="M68.50 703.50h-4.86M1013.50 703.50h4.86"/>
<path d="M68.50 641.50h-4.86M1013.50 641.50h4.86"/>
<path d="M68.50 580.50h-4.86M1013.50 580.50h4.86"/>
<path d="M68.50 519.50h-4.86M1013.50 519.50h4.86"/>
<path d="M68.50 457.50h-4.86M1013.50 457.50h4.86"/>
<path d="M68.50 396.50h-4.86M1013.50 396.50h4.86"/>
<path d="M68.50 334.50h-4.86M1013.50 334.50h4.86"/>
<path d="M68.50 273.50h-4.86M1013.50 273.50h4.86"/>
<path d="M68.50 211.50h-4.86M1013.50 211.50h4.86"/>
<path d="M68.50 150.50h-4.86M1013.50 150.50h4.86"/>
<path d="M68.50 89.50h-4.86M1013.50 89.50h4.86"/>
<path d="M68.50 703.50v3.6"/>
<path d="M147.50 703.50v3.6"/>
<path d="M227.50 703.50v3.6"/>
<path d="M306.50 703.50v3.6"/>
<path d="M385.50 703.50v3.6"/>
<path d="M464.50 703.50v3.6"/>
<path d="M544.50 703.50v3.6"/>
<path d="M623.50 703.50v3.6"/>
<path d="M702.50 703.50v3.6"/>
<path d="M782.50 703.50v3.6"/>
<path d="M861.50 703.50v3.6"/>
<path d="M940.50 703.50v3.6"/>
</g>
<g font-size="17.65">
<text x="58.30" y="709.90" text-anchor="end">0</text>
<text x="1023.40" y="709.90">0</text>
<text x="58.30" y="648.90" text-anchor="end">1</text>
<text x="1023.40" y="648.90">1</text>
<text x="58.30" y="586.90" text-anchor="end">2</text>
<text x="1023.40" y="586.90">2</text>
<text x="58.30" y="525.90" text-anchor="end">3</text>
<text x="1023.40" y="525.90">3</text>
<text x="58.30" y="464.40" text-anchor="end">4</text>
<text x="1023.40" y="464.40">4</text>
<text x="58.30" y="402.90" text-anchor="end">5</text>
<text x="1023.40" y="402.90">5</text>
<text x="58.30" y="341.90" text-anchor="end">6</text>
<text x="1023.40" y="341.90">6</text>
<text x="58.30" y="279.90" text-anchor="end">7</text>
<text x="1023.40" y="279.90">7</text>
<text x="58.30" y="218.90" text-anchor="end">8</text>
<text x="1023.40" y="218.90">8</text>
<text x="58.30" y="156.90" text-anchor="end">9</text>
<text x="1023.40" y="156.90">9</text>
<text x="58.30" y="95.90" text-anchor="end">10</text>
<text x="1023.40" y="95.90">10</text>
<text x="68.20" y="726.00" text-anchor="middle" font-size="18.6">04</text>
<text x="147.48" y="726.00" text-anchor="middle" font-size="18.6">06</text>
<text x="226.76" y="726.00" text-anchor="middle" font-size="18.6">08</text>
<text x="306.04" y="726.00" text-anchor="middle" font-size="18.6">10</text>
<text x="385.32" y="726.00" text-anchor="middle" font-size="18.6">12</text>
<text x="464.60" y="726.00" text-anchor="middle" font-size="18.6">14</text>
<text x="543.88" y="726.00" text-anchor="middle" font-size="18.6">16</text>
<text x="623.16" y="726.00" text-anchor="middle" font-size="18.6">18</text>
<text x="702.44" y="726.00" text-anchor="middle" font-size="18.6">20</text>
<text x="781.72" y="726.00" text-anchor="middle" font-size="18.6">22</text>
<text x="861.10" y="727.00" text-anchor="middle" font-size="17.65">Feb-08</text>
<text x="940.28" y="726.00" text-anchor="middle" font-size="18.6">02</text>
</g>
<text x="540.6" y="751.5" font-size="20.95" text-anchor="middle">Time (UTC)</text>
<text transform="translate(24.8 397) rotate(-90)" font-size="20.83" text-anchor="middle">Cloud Base (km)</text>
<text transform="translate(1066.9 396) rotate(-90)" font-size="20.83" text-anchor="middle">Integrated Moisture (mm liquid | cm vapor)</text>
<rect x="766.2" y="98.4" width="236.9" height="121.1" rx="2.8" ry="2.8" fill="#fff" fill-opacity="0.8" stroke="#ccc" stroke-width="1.11"/>
<circle cx="794.5" cy="116.1" r="4.95" fill="#000"/>
<circle cx="794.5" cy="145.0" r="4.95" fill="#f00"/>
<circle cx="794.5" cy="173.7" r="4.95" fill="#00f"/>
<path d="M774 200.3H812.9" stroke="rgb(0,128,0)" stroke-opacity="0.5" stroke-width="2.08" fill="none"/>
<g font-size="19.44">
<text x="829.4" y="120.90">Cloud Base</text>
<text x="829.4" y="149.60" letter-spacing="0.1">Integrated Vapor</text>
<text x="829.4" y="178.30">Integrated Liquid</text>
<text x="829.4" y="207.00">Rain Flag</text>
</g>
<g id="logo">
<path d="M986.0 754.9 L990.7 750.7 L992.8 748.6 L991.3 745.3 L992.8 743.8 L997.3 743.2 L1000.9 744.4 L1005.7 744.0 L1008.1 742.3 L1010.1 741.7 L1009.9 739.3 L1009.3 737.8 L1011.0 736.3 L1012.8 734.9 L1013.1 732.5 L1015.2 730.7 L1018.2 729.9 L1028.2 729.9 L1028.5 732.8 L1028.8 735.1 L1028.2 738.1 L1028.7 739.9 L1029.1 742.3 L1029.3 748.9 L1028.7 751.9 L1028.1 756.0 L1028.1 760.8 L1028.2 763.8 L1026.9 765.0 L1026.6 766.2 L1024.5 764.1 L1021.2 762.0 L1018.2 760.5 L1016.7 758.4 L1015.2 756.6 L1013.4 756.2 L986.0 756.2Z" fill="#eea90b"/>
<path d="M1023.3 769.5 L1025.4 767.7 L1026.3 766.2 L1029.6 765.6 L1033.7 764.1 L1037.3 763.2 L1038.8 763.2 L1038.8 764.1 L1035.5 765.6 L1031.3 767.1 L1027.2 768.6 L1024.2 769.9Z" fill="#eea90b" fill-opacity="0.85"/>
<text x="1008.3" y="754.9" font-size="15.8" font-weight="bold" style="font-family:'Liberation Sans',sans-serif;fill:#fff;stroke:#fff;stroke-width:0.7" textLength="18" lengthAdjust="spacingAndGlyphs">NYS</text>
<text x="1031.2" y="754.9" font-size="15.8" font-weight="bold" style="font-family:'Liberation Sans',sans-serif;fill:#4a2170;stroke:#4a2170;stroke-width:0.7" textLength="42.2" lengthAdjust="spacingAndGlyphs">Mesonet</text>
<text x="1031.3" y="760.0" font-size="3.4" font-weight="bold" style="font-family:'Liberation Sans',sans-serif;fill:#4a2170" textLength="42" lengthAdjust="spacingAndGlyphs">UNIVERSITY AT ALBANY</text>
</g>
</svg></body></html>
